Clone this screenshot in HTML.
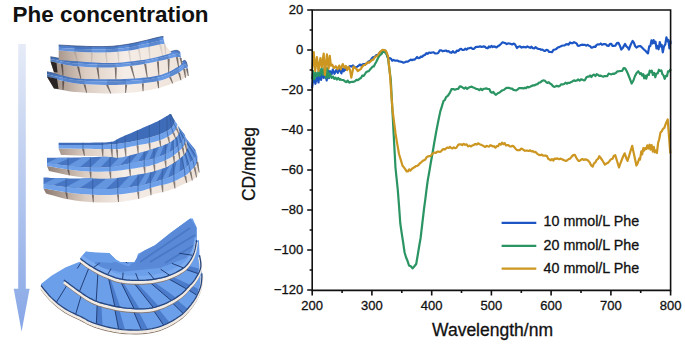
<!DOCTYPE html>
<html><head><meta charset="utf-8"><style>
html,body{margin:0;padding:0;background:#fff;}
body{width:685px;height:345px;overflow:hidden;position:relative;}
svg{position:absolute;left:0;top:0;}
</style></head><body>
<svg width="685" height="345" viewBox="0 0 685 345">
<defs>
<linearGradient id="arrowg" x1="0" y1="0" x2="0" y2="1"><stop offset="0" stop-color="#e6ebf7"/><stop offset="1" stop-color="#86a6e6"/></linearGradient>
<linearGradient id="be1" gradientUnits="userSpaceOnUse" x1="45" y1="0" x2="190" y2="0"><stop offset="0" stop-color="#8e7c72"/><stop offset="0.28" stop-color="#dccdc2"/><stop offset="0.55" stop-color="#f5ede7"/><stop offset="1" stop-color="#eee2d8"/></linearGradient>
<linearGradient id="bl1" gradientUnits="userSpaceOnUse" x1="45" y1="0" x2="190" y2="0"><stop offset="0" stop-color="#38609e"/><stop offset="0.12" stop-color="#4f7fcb"/><stop offset="1" stop-color="#5a8ede"/></linearGradient>
<linearGradient id="bl1f" gradientUnits="userSpaceOnUse" x1="45" y1="0" x2="190" y2="0"><stop offset="0" stop-color="#40679f"/><stop offset="0.12" stop-color="#6592da"/><stop offset="1" stop-color="#6b9ce6"/></linearGradient>
<clipPath id="clip3_0"><polygon points="41.0,284.0 51.5,275.8 65.3,267.5 79.0,262.0 120.0,268.0 170.0,268.0 200.5,262.0 202.0,273.4 201.9,274.7 201.9,276.4 201.8,278.5 201.6,280.7 201.4,282.9 201.0,285.0 200.5,286.9 199.8,288.9 199.1,290.9 198.2,292.8 197.3,294.7 196.4,296.5 195.4,298.2 194.4,299.9 193.3,301.5 192.1,303.1 190.9,304.7 189.6,306.3 188.3,307.9 186.9,309.4 185.5,311.0 184.0,312.5 182.3,314.1 180.3,315.6 178.0,317.2 175.5,318.9 172.8,320.5 169.9,322.1 167.0,323.6 164.1,324.9 161.2,326.0 158.3,327.0 155.3,327.8 152.2,328.5 149.0,329.1 145.6,329.5 142.0,329.8 138.0,330.0 134.0,330.0 130.0,329.9 126.0,329.8 122.4,329.5 119.0,329.1 115.7,328.6 112.6,328.0 109.6,327.4 106.7,326.7 103.9,326.0 101.3,325.3 98.7,324.5 96.3,323.8 94.0,323.0 91.9,322.2 90.0,321.4 88.4,320.7 87.2,320.1 86.1,319.4 84.9,318.7 83.6,318.0 81.8,317.0 79.5,315.9 76.8,314.7 73.9,313.3 70.9,311.9 68.0,310.4 65.3,308.8 62.8,307.1 60.4,305.4 58.0,303.6 55.8,301.7 53.6,299.7 51.5,297.8 49.4,295.7 47.4,293.3 45.4,290.9 43.6,288.7 42.1,286.8 41.0,285.4"/></clipPath><clipPath id="clip3_1"><polygon points="63.9,278.5 66.7,273.0 83.2,266.1 100.0,262.0 140.0,262.0 170.0,250.0 199.0,240.0 199.5,255.0 199.7,256.4 200.1,258.3 200.5,260.6 200.8,263.0 200.9,265.4 200.7,267.6 200.1,269.7 199.3,271.7 198.3,273.8 197.1,275.8 196.0,277.6 195.0,279.2 194.1,280.5 193.3,281.6 192.5,282.5 191.7,283.4 190.7,284.3 189.6,285.5 188.4,286.9 187.0,288.3 185.6,289.9 184.1,291.5 182.3,293.1 180.3,294.7 178.0,296.3 175.5,298.0 172.8,299.6 169.9,301.2 167.0,302.7 164.1,304.0 161.2,305.1 158.3,306.1 155.3,307.0 152.2,307.7 149.0,308.2 145.6,308.6 142.0,308.8 138.1,308.8 134.1,308.6 130.1,308.3 126.2,308.0 122.4,307.5 118.7,306.9 114.9,306.2 111.3,305.4 107.8,304.6 104.5,303.7 101.6,302.9 99.1,302.2 97.0,301.4 95.2,300.7 93.5,300.0 91.8,299.1 90.0,298.2 88.2,297.2 86.4,296.1 84.7,295.0 82.9,293.8 81.1,292.4 79.0,291.0 76.5,289.3 73.7,287.2 70.8,285.1 68.0,283.0 65.6,281.2 63.9,280.0"/></clipPath><clipPath id="clip3_2"><polygon points="80.4,257.9 85.9,251.6 95.0,252.4 109.3,253.0 115.9,259.6 121.0,262.2 128.9,263.5 134.1,262.8 136.7,258.3 138.0,253.7 155.0,245.2 171.0,232.4 190.2,218.4 192.7,218.4 196.6,227.3 196.6,240.0 196.6,240.0 196.4,241.4 196.1,243.4 195.7,245.7 195.3,248.1 194.7,250.6 194.0,252.8 193.2,254.9 192.2,256.9 191.1,259.0 189.9,260.9 188.6,262.8 187.3,264.4 186.0,265.8 184.6,267.1 183.1,268.2 181.5,269.3 179.8,270.3 178.0,271.3 176.0,272.4 173.9,273.4 171.6,274.4 169.2,275.3 166.7,276.2 164.1,277.0 161.3,277.7 158.4,278.3 155.4,278.9 152.3,279.4 149.0,279.7 145.6,280.0 142.0,280.2 138.0,280.2 134.0,280.2 130.0,280.1 126.0,279.8 122.4,279.3 119.0,278.6 115.7,277.7 112.6,276.6 109.6,275.4 106.7,274.2 103.9,273.0 101.3,271.8 98.8,270.6 96.4,269.3 94.1,268.0 92.0,266.7 90.0,265.5 88.0,264.2 86.1,262.9 84.3,261.5 82.7,260.3 81.4,259.3 80.4,258.5"/></clipPath></defs>
<rect width="685" height="345" fill="#fff"/>
<text x="12.6" y="21.9" font-family="Liberation Sans" font-weight="bold" font-size="21.8" fill="#111" textLength="196" lengthAdjust="spacingAndGlyphs">Phe concentration</text>
<path d="M18.2,44 H25.8 V288.8 H29.6 L21.6,331.5 L13.7,288.8 H18.2 Z" fill="url(#arrowg)"/><polygon points="47.0,76.7 50.0,77.5 54.0,78.6 58.8,79.9 64.1,81.2 69.6,82.4 75.0,83.3 80.5,83.9 86.4,84.3 92.5,84.6 98.6,84.8 104.5,84.9 110.0,84.9 115.1,84.9 120.1,84.8 124.8,84.6 129.3,84.4 133.8,84.1 138.1,83.7 142.4,83.3 146.5,82.8 150.5,82.3 154.4,81.7 158.1,81.0 161.5,80.2 164.7,79.2 167.8,78.1 170.6,76.8 173.3,75.5 175.7,74.3 177.8,73.2 179.6,72.1 181.2,71.0 182.5,70.0 183.7,69.1 184.6,68.4 185.5,68.0 186.2,68.0 186.8,68.5 187.1,69.1 187.4,69.8 187.6,70.5 187.8,70.9 187.9,75.6 187.7,75.7 187.6,75.9 187.3,76.1 187.0,76.3 186.6,76.6 186.0,77.0 185.4,77.4 184.8,77.8 184.1,78.2 183.2,78.8 182.0,79.4 180.2,80.2 177.9,81.2 175.1,82.3 172.0,83.6 168.6,84.9 165.0,86.1 161.5,87.2 157.9,88.2 154.2,89.1 150.4,89.9 146.4,90.6 142.3,91.3 138.1,91.9 133.8,92.4 129.3,92.8 124.8,93.1 120.1,93.3 115.1,93.5 110.0,93.5 104.4,93.4 98.3,93.3 92.1,93.0 85.9,92.7 80.1,92.3 75.0,91.9 70.4,91.4 66.2,90.7 62.3,90.1 58.9,89.4 56.1,88.8 54.0,88.4" fill="url(#be1)"/><polygon points="47.0,74.2 50.0,74.9 54.0,75.9 58.8,77.1 64.1,78.2 69.6,79.3 75.0,80.0 80.5,80.6 86.4,80.9 92.5,81.2 98.6,81.3 104.5,81.4 110.0,81.4 115.1,81.4 120.1,81.3 124.8,81.1 129.3,80.9 133.8,80.6 138.1,80.2 142.4,79.9 146.5,79.4 150.5,78.9 154.4,78.3 158.1,77.6 161.5,76.8 164.7,75.7 167.8,74.4 170.7,73.0 173.3,71.6 175.7,70.3 177.8,69.2 179.6,68.1 181.1,67.0 182.3,65.9 183.4,65.1 184.3,64.5 185.2,64.2 185.9,64.4 186.4,65.1 186.9,66.1 187.2,67.1 187.5,68.0 187.7,68.6 187.8,70.9 187.6,70.5 187.4,69.8 187.1,69.1 186.8,68.5 186.2,68.0 185.5,68.0 184.6,68.4 183.7,69.1 182.5,70.0 181.2,71.0 179.6,72.1 177.8,73.2 175.7,74.3 173.3,75.5 170.6,76.8 167.8,78.1 164.7,79.2 161.5,80.2 158.1,81.0 154.4,81.7 150.5,82.3 146.5,82.8 142.4,83.3 138.1,83.7 133.8,84.1 129.3,84.4 124.8,84.6 120.1,84.8 115.1,84.9 110.0,84.9 104.5,84.9 98.6,84.8 92.5,84.6 86.4,84.3 80.5,83.9 75.0,83.3 69.6,82.4 64.1,81.2 58.8,79.9 54.0,78.6 50.0,77.5 47.0,76.7" fill="url(#bl1f)"/><polygon points="47.0,71.8 50.0,72.4 54.0,73.2 58.8,74.2 64.1,75.2 69.6,76.1 75.0,76.8 80.5,77.2 86.4,77.5 92.5,77.7 98.6,77.8 104.5,77.9 110.0,77.9 115.1,77.9 120.1,77.8 124.8,77.6 129.3,77.4 133.8,77.1 138.1,76.8 142.4,76.4 146.5,76.0 150.5,75.5 154.4,74.9 158.1,74.2 161.5,73.3 164.7,72.2 167.8,70.8 170.7,69.3 173.3,67.7 175.7,66.3 177.8,65.1 179.6,64.0 181.0,62.9 182.1,61.9 183.1,61.1 184.0,60.5 184.8,60.4 185.5,60.8 186.1,61.8 186.6,63.1 187.0,64.4 187.3,65.5 187.6,66.3 187.7,68.6 187.5,68.0 187.2,67.1 186.9,66.1 186.4,65.1 185.9,64.4 185.2,64.2 184.3,64.5 183.4,65.1 182.3,65.9 181.1,67.0 179.6,68.1 177.8,69.2 175.7,70.3 173.3,71.6 170.7,73.0 167.8,74.4 164.7,75.7 161.5,76.8 158.1,77.6 154.4,78.3 150.5,78.9 146.5,79.4 142.4,79.9 138.1,80.2 133.8,80.6 129.3,80.9 124.8,81.1 120.1,81.3 115.1,81.4 110.0,81.4 104.5,81.4 98.6,81.3 92.5,81.2 86.4,80.9 80.5,80.6 75.0,80.0 69.6,79.3 64.1,78.2 58.8,77.1 54.0,75.9 50.0,74.9 47.0,74.2" fill="url(#bl1)"/><polygon points="63.1,75.1 65.7,75.5 68.4,75.9 71.0,76.3 73.5,76.6 76.1,76.9 78.8,77.1 81.4,77.3 84.3,77.4 84.3,84.2 81.4,84.0 78.8,83.7 76.1,83.4 73.5,83.1 71.0,82.6 68.4,82.1 65.7,81.6 63.1,81.0" fill="rgba(30,60,120,0.18)"/><polygon points="107.0,77.9 109.6,77.9 112.1,77.9 114.6,77.9 116.9,77.8 119.3,77.8 121.6,77.7 123.8,77.7 126.0,77.6 126.0,84.6 123.8,84.7 121.6,84.7 119.3,84.8 116.9,84.9 114.6,84.9 112.1,84.9 109.6,84.9 107.0,84.9" fill="rgba(30,60,120,0.18)"/><polygon points="142.7,76.4 144.7,76.2 146.7,76.0 148.6,75.7 150.5,75.5 152.4,75.2 154.2,74.9 156.0,74.6 157.7,74.2 157.7,81.1 156.0,81.4 154.2,81.7 152.4,82.0 150.5,82.3 148.6,82.6 146.7,82.8 144.7,83.0 142.7,83.2" fill="rgba(30,60,120,0.18)"/><polygon points="169.9,69.7 171.2,69.0 172.5,68.2 173.7,67.5 174.8,66.8 175.9,66.2 176.9,65.6 177.9,65.0 178.8,64.5 178.8,72.6 177.9,73.1 176.9,73.7 175.9,74.2 174.8,74.7 173.6,75.3 172.4,75.9 171.2,76.5 169.9,77.1" fill="rgba(30,60,120,0.18)"/><polygon points="183.4,60.9 183.8,60.6 184.2,60.5 184.6,60.4 185.0,60.5 185.4,60.7 185.7,61.1 186.0,61.5 186.2,62.0 186.8,68.6 186.6,68.3 186.3,68.1 186.0,68.0 185.7,68.0 185.3,68.1 184.9,68.3 184.5,68.5 184.0,68.8" fill="rgba(30,60,120,0.18)"/><polygon points="62.2,81.0 64.3,81.2 63.5,90.1 62.6,90.1" fill="#2a2020" opacity="0.6"/><polygon points="83.4,84.2 85.5,84.4 87.1,92.7 86.2,92.7" fill="#2a2020" opacity="0.6"/><polygon points="106.1,84.9 108.2,85.1 111.2,93.5 110.3,93.5" fill="#2a2020" opacity="0.6"/><polygon points="125.1,84.6 127.2,84.8 126.0,93.1 125.1,93.1" fill="#2a2020" opacity="0.6"/><polygon points="141.8,83.2 143.9,83.4 143.5,91.3 142.6,91.3" fill="#2a2020" opacity="0.6"/><polygon points="156.8,81.1 158.9,81.3 159.1,88.2 158.2,88.2" fill="#2a2020" opacity="0.6"/><polygon points="169.0,77.1 171.1,77.3 173.2,83.6 172.3,83.6" fill="#2a2020" opacity="0.6"/><polygon points="177.9,72.6 180.0,72.8 181.4,80.2 180.5,80.2" fill="#2a2020" opacity="0.6"/><polygon points="183.1,68.8 185.2,69.0 186.0,77.8 185.1,77.8" fill="#2a2020" opacity="0.6"/><polygon points="185.9,68.6 188.0,68.8 188.8,75.9 187.9,75.9" fill="#2a2020" opacity="0.6"/><polyline points="47.0,71.8 50.0,72.4 54.0,73.2 58.8,74.2 64.1,75.2 69.6,76.1 75.0,76.8 80.5,77.2 86.4,77.5 92.5,77.7 98.6,77.8 104.5,77.9 110.0,77.9 115.1,77.9 120.1,77.8 124.8,77.6 129.3,77.4 133.8,77.1 138.1,76.8 142.4,76.4 146.5,76.0 150.5,75.5 154.4,74.9 158.1,74.2 161.5,73.3 164.7,72.2 167.8,70.8 170.7,69.3 173.3,67.7 175.7,66.3 177.8,65.1 179.6,64.0 181.0,62.9 182.1,61.9 183.1,61.1 184.0,60.5 184.8,60.4 185.5,60.8 186.1,61.8 186.6,63.1 187.0,64.4 187.3,65.5 187.6,66.3" fill="none" stroke="#2a4478" stroke-width="0.9" opacity="0.8"/><polygon points="47.0,76.7 57.0,78.8 58.5,89.0 54.0,88.4" fill="#2b2424"/><polygon points="50.5,61.5 53.0,62.1 56.5,62.8 60.6,63.8 65.1,64.7 70.0,65.6 75.0,66.2 80.3,66.6 86.1,67.0 92.3,67.2 98.5,67.4 104.4,67.4 110.0,67.4 115.1,67.2 120.1,66.9 124.8,66.6 129.3,66.1 133.8,65.6 138.1,65.0 142.4,64.3 146.5,63.6 150.5,62.8 154.4,61.9 158.1,61.1 161.5,60.4 164.8,59.7 167.9,58.9 170.9,58.2 173.6,57.6 175.9,57.1 177.8,56.9 179.2,57.0 180.0,57.3 180.6,57.8 180.9,58.4 181.1,58.9 181.3,59.2 182.5,62.7 182.1,63.1 181.7,63.7 181.2,64.4 180.4,65.2 179.3,66.0 177.8,67.0 175.8,68.1 173.5,69.5 170.8,70.9 167.9,72.3 164.8,73.6 161.5,74.7 158.1,75.6 154.4,76.3 150.5,76.9 146.5,77.4 142.4,77.8 138.1,78.2 133.8,78.5 129.3,78.8 124.8,79.0 120.1,79.2 115.1,79.3 110.0,79.3 104.4,79.3 98.3,79.3 92.1,79.1 85.9,79.0 80.1,78.7 75.0,78.2 70.4,77.5 66.2,76.5 62.3,75.5 58.9,74.4 56.1,73.5 54.0,72.9" fill="url(#be1)"/><polygon points="50.5,59.1 53.0,59.6 56.5,60.3 60.6,61.2 65.1,62.0 70.0,62.8 75.0,63.4 80.3,63.8 86.1,64.1 92.3,64.4 98.5,64.5 104.4,64.6 110.0,64.5 115.1,64.3 120.1,64.1 124.8,63.7 129.3,63.2 133.8,62.7 138.1,62.1 142.4,61.5 146.6,60.7 150.6,59.9 154.5,59.1 158.1,58.3 161.5,57.5 164.6,56.7 167.6,55.9 170.3,55.2 172.7,54.5 174.9,53.9 176.7,53.6 178.0,53.7 179.0,54.0 179.6,54.5 180.1,55.0 180.4,55.5 180.8,55.8 181.3,59.2 181.1,58.9 180.9,58.4 180.6,57.8 180.0,57.3 179.2,57.0 177.8,56.9 175.9,57.1 173.6,57.6 170.9,58.2 167.9,58.9 164.8,59.7 161.5,60.4 158.1,61.1 154.4,61.9 150.5,62.8 146.5,63.6 142.4,64.3 138.1,65.0 133.8,65.6 129.3,66.1 124.8,66.6 120.1,66.9 115.1,67.2 110.0,67.4 104.4,67.4 98.5,67.4 92.3,67.2 86.1,67.0 80.3,66.6 75.0,66.2 70.0,65.6 65.1,64.7 60.6,63.8 56.5,62.8 53.0,62.1 50.5,61.5" fill="url(#bl1f)"/><polygon points="50.5,56.7 53.0,57.2 56.5,57.8 60.6,58.6 65.1,59.4 70.0,60.1 75.0,60.6 80.3,61.0 86.1,61.3 92.3,61.5 98.5,61.6 104.4,61.7 110.0,61.6 115.1,61.4 120.1,61.2 124.8,60.8 129.3,60.4 133.8,59.9 138.1,59.3 142.4,58.6 146.6,57.9 150.7,57.1 154.6,56.2 158.2,55.4 161.5,54.6 164.5,53.8 167.2,52.9 169.7,52.1 171.9,51.3 173.8,50.7 175.5,50.4 176.9,50.4 177.9,50.7 178.7,51.1 179.3,51.6 179.8,52.0 180.2,52.3 180.8,55.8 180.4,55.5 180.1,55.0 179.6,54.5 179.0,54.0 178.0,53.7 176.7,53.6 174.9,53.9 172.7,54.5 170.3,55.2 167.6,55.9 164.6,56.7 161.5,57.5 158.1,58.3 154.5,59.1 150.6,59.9 146.6,60.7 142.4,61.5 138.1,62.1 133.8,62.7 129.3,63.2 124.8,63.7 120.1,64.1 115.1,64.3 110.0,64.5 104.4,64.6 98.5,64.5 92.3,64.4 86.1,64.1 80.3,63.8 75.0,63.4 70.0,62.8 65.1,62.0 60.6,61.2 56.5,60.3 53.0,59.6 50.5,59.1" fill="url(#bl1)"/><polygon points="61.8,58.8 63.7,59.1 65.6,59.4 67.6,59.7 69.6,60.0 71.6,60.2 73.6,60.5 75.7,60.7 77.9,60.8 77.9,66.4 75.7,66.3 73.6,66.0 71.6,65.8 69.6,65.5 67.6,65.1 65.6,64.8 63.7,64.4 61.8,64.0" fill="rgba(30,60,120,0.18)"/><polygon points="97.3,61.6 99.8,61.6 102.3,61.6 104.7,61.7 107.0,61.6 109.2,61.6 111.4,61.6 113.5,61.5 115.6,61.4 115.6,67.2 113.5,67.3 111.4,67.4 109.2,67.4 107.0,67.4 104.7,67.4 102.3,67.4 99.8,67.4 97.3,67.4" fill="rgba(30,60,120,0.18)"/><polygon points="130.9,60.2 132.8,60.0 134.6,59.8 136.3,59.5 138.1,59.3 139.9,59.0 141.6,58.8 143.3,58.5 145.1,58.2 145.0,63.9 143.3,64.2 141.6,64.5 139.8,64.7 138.1,65.0 136.3,65.2 134.6,65.5 132.8,65.7 130.9,65.9" fill="rgba(30,60,120,0.18)"/><polygon points="157.9,55.5 159.2,55.1 160.6,54.8 161.9,54.5 163.1,54.2 164.3,53.8 165.5,53.5 166.6,53.1 167.7,52.8 168.5,58.8 167.2,59.1 165.9,59.4 164.6,59.7 163.3,60.0 161.9,60.3 160.6,60.6 159.2,60.9 157.7,61.2" fill="rgba(30,60,120,0.18)"/><polygon points="174.6,50.6 175.3,50.4 175.9,50.4 176.4,50.4 177.0,50.4 177.4,50.5 177.8,50.6 178.2,50.8 178.5,51.0 180.4,57.7 180.2,57.5 180.0,57.3 179.6,57.1 179.2,57.0 178.7,57.0 178.2,56.9 177.5,56.9 176.8,57.0" fill="rgba(30,60,120,0.18)"/><polygon points="60.9,64.0 63.0,64.2 63.5,75.5 62.6,75.5" fill="#2a2020" opacity="0.6"/><polygon points="77.0,66.4 79.1,66.6 81.3,78.7 80.4,78.7" fill="#2a2020" opacity="0.6"/><polygon points="96.4,67.4 98.5,67.6 99.5,79.3 98.6,79.3" fill="#2a2020" opacity="0.6"/><polygon points="114.7,67.2 116.8,67.4 116.3,79.3 115.4,79.3" fill="#2a2020" opacity="0.6"/><polygon points="130.0,65.9 132.1,66.1 135.0,78.5 134.1,78.5" fill="#2a2020" opacity="0.6"/><polygon points="144.1,63.9 146.2,64.1 147.7,77.4 146.8,77.4" fill="#2a2020" opacity="0.6"/><polygon points="156.8,61.2 158.9,61.4 159.3,75.6 158.4,75.6" fill="#2a2020" opacity="0.6"/><polygon points="167.6,58.8 169.7,59.0 169.1,72.3 168.2,72.3" fill="#2a2020" opacity="0.6"/><polygon points="175.9,57.0 178.0,57.2 179.0,67.0 178.1,67.0" fill="#2a2020" opacity="0.6"/><polygon points="179.5,57.7 181.6,57.9 182.4,64.4 181.5,64.4" fill="#2a2020" opacity="0.6"/><polyline points="50.5,56.7 53.0,57.2 56.5,57.8 60.6,58.6 65.1,59.4 70.0,60.1 75.0,60.6 80.3,61.0 86.1,61.3 92.3,61.5 98.5,61.6 104.4,61.7 110.0,61.6 115.1,61.4 120.1,61.2 124.8,60.8 129.3,60.4 133.8,59.9 138.1,59.3 142.4,58.6 146.6,57.9 150.7,57.1 154.6,56.2 158.2,55.4 161.5,54.6 164.5,53.8 167.2,52.9 169.7,52.1 171.9,51.3 173.8,50.7 175.5,50.4 176.9,50.4 177.9,50.7 178.7,51.1 179.3,51.6 179.8,52.0 180.2,52.3" fill="none" stroke="#2a4478" stroke-width="0.9" opacity="0.8"/><polygon points="50.5,61.5 56.5,62.8 57.5,72.5 54.0,72.0" fill="#2b2424"/><polygon points="58.7,50.6 61.8,50.8 66.1,51.1 71.2,51.4 76.7,51.7 82.0,52.0 86.7,52.2 90.9,52.3 95.0,52.4 98.9,52.4 102.7,52.4 106.4,52.3 110.0,52.2 113.4,52.0 116.7,51.8 119.8,51.6 122.9,51.3 125.9,51.0 128.8,50.6 131.6,50.2 134.4,49.7 137.0,49.2 139.7,48.6 142.3,48.1 145.1,47.5 148.1,46.9 151.4,46.2 154.7,45.5 157.8,44.8 160.5,44.3 162.6,44.0 163.9,43.9 164.6,44.0 164.9,44.3 164.9,44.6 164.9,44.8 165.0,45.0 171.0,52.0 171.0,52.1 171.2,52.3 171.4,52.5 171.3,52.8 170.8,53.1 169.6,53.6 167.6,54.2 165.0,55.0 161.9,55.8 158.6,56.7 155.3,57.5 152.1,58.2 149.1,58.8 146.1,59.4 143.1,59.9 140.0,60.3 136.8,60.8 133.4,61.2 129.8,61.6 125.9,62.0 122.0,62.4 118.0,62.7 113.9,62.9 110.0,63.0 106.2,63.0 102.4,62.9 98.6,62.7 94.8,62.5 90.9,62.3 86.7,62.0 82.0,61.7 76.7,61.3 71.2,60.9 66.1,60.6 61.8,60.2 58.7,60.0" fill="url(#be1)"/><polygon points="58.7,47.8 61.8,48.0 66.1,48.2 71.2,48.5 76.7,48.9 82.0,49.1 86.7,49.3 90.9,49.4 95.0,49.5 98.9,49.5 102.7,49.5 106.4,49.4 110.0,49.3 113.4,49.1 116.7,48.8 119.8,48.5 122.9,48.2 125.9,47.8 128.8,47.4 131.7,46.9 134.4,46.4 137.1,45.8 139.7,45.2 142.4,44.6 145.1,44.0 148.1,43.4 151.3,42.7 154.5,41.9 157.5,41.2 160.1,40.7 162.1,40.3 163.3,40.2 163.9,40.3 164.1,40.6 164.1,40.9 164.0,41.1 164.0,41.3 165.0,45.0 164.9,44.8 164.9,44.6 164.9,44.3 164.6,44.0 163.9,43.9 162.6,44.0 160.5,44.3 157.8,44.8 154.7,45.5 151.4,46.2 148.1,46.9 145.1,47.5 142.3,48.1 139.7,48.6 137.0,49.2 134.4,49.7 131.6,50.2 128.8,50.6 125.9,51.0 122.9,51.3 119.8,51.6 116.7,51.8 113.4,52.0 110.0,52.2 106.4,52.3 102.7,52.4 98.9,52.4 95.0,52.4 90.9,52.3 86.7,52.2 82.0,52.0 76.7,51.7 71.2,51.4 66.1,51.1 61.8,50.8 58.7,50.6" fill="url(#bl1f)"/><polygon points="58.7,45.0 61.8,45.2 66.1,45.4 71.2,45.7 76.7,46.0 82.0,46.2 86.7,46.4 90.9,46.5 95.0,46.6 98.9,46.6 102.7,46.6 106.4,46.5 110.0,46.4 113.4,46.2 116.7,45.8 119.8,45.5 122.9,45.0 125.9,44.6 128.8,44.1 131.7,43.6 134.4,43.0 137.1,42.5 139.8,41.8 142.4,41.2 145.1,40.6 148.0,39.9 151.1,39.1 154.2,38.3 157.1,37.6 159.6,37.0 161.5,36.6 162.6,36.5 163.2,36.6 163.3,36.9 163.2,37.2 163.0,37.4 163.0,37.6 164.0,41.3 164.0,41.1 164.1,40.9 164.1,40.6 163.9,40.3 163.3,40.2 162.1,40.3 160.1,40.7 157.5,41.2 154.5,41.9 151.3,42.7 148.1,43.4 145.1,44.0 142.4,44.6 139.7,45.2 137.1,45.8 134.4,46.4 131.7,46.9 128.8,47.4 125.9,47.8 122.9,48.2 119.8,48.5 116.7,48.8 113.4,49.1 110.0,49.3 106.4,49.4 102.7,49.5 98.9,49.5 95.0,49.5 90.9,49.4 86.7,49.3 82.0,49.1 76.7,48.9 71.2,48.5 66.1,48.2 61.8,48.0 58.7,47.8" fill="url(#bl1)"/><polygon points="74.5,45.9 76.9,46.0 79.3,46.1 81.7,46.2 83.9,46.3 86.0,46.4 88.0,46.4 89.9,46.5 91.7,46.5 91.7,52.3 89.9,52.3 88.0,52.2 86.0,52.2 83.9,52.1 81.7,52.0 79.3,51.9 76.9,51.7 74.5,51.6" fill="rgba(30,60,120,0.18)"/><polygon points="105.7,46.6 107.3,46.5 108.9,46.4 110.5,46.4 112.1,46.3 113.6,46.1 115.1,46.0 116.5,45.9 118.0,45.7 118.0,51.7 116.5,51.9 115.1,51.9 113.6,52.0 112.1,52.1 110.5,52.2 108.9,52.2 107.3,52.3 105.7,52.3" fill="rgba(30,60,120,0.18)"/><polygon points="128.8,44.1 130.1,43.9 131.4,43.6 132.6,43.4 133.9,43.2 135.1,42.9 136.3,42.6 137.5,42.4 138.7,42.1 138.6,48.8 137.4,49.1 136.2,49.3 135.0,49.6 133.8,49.8 132.6,50.0 131.4,50.2 130.1,50.4 128.8,50.6" fill="rgba(30,60,120,0.18)"/><polygon points="148.6,39.7 150.0,39.4 151.4,39.0 152.8,38.7 154.2,38.3 155.5,38.0 156.8,37.7 158.0,37.4 159.1,37.1 160.0,44.4 158.8,44.7 157.5,44.9 156.1,45.2 154.7,45.5 153.2,45.8 151.7,46.1 150.3,46.4 148.8,46.7" fill="rgba(30,60,120,0.18)"/><polygon points="163.2,36.7 163.3,36.8 163.2,36.9 163.2,37.1 163.1,37.2 163.1,37.3 163.0,37.5 163.0,37.5 163.0,37.6 165.0,45.0 165.0,44.9 164.9,44.9 164.9,44.7 164.9,44.6 164.9,44.5 164.9,44.4 164.9,44.2 164.7,44.1" fill="rgba(30,60,120,0.18)"/><polygon points="73.6,51.6 75.7,51.8 77.9,61.3 77.0,61.3" fill="#2a2020" opacity="0.12"/><polygon points="90.8,52.3 92.9,52.5 92.1,62.3 91.2,62.3" fill="#2a2020" opacity="0.12"/><polygon points="104.8,52.3 106.9,52.5 107.4,63.0 106.5,63.0" fill="#2a2020" opacity="0.12"/><polygon points="117.1,51.7 119.2,51.9 119.2,62.7 118.3,62.7" fill="#2a2020" opacity="0.12"/><polygon points="127.9,50.6 130.0,50.8 131.0,61.6 130.1,61.6" fill="#2a2020" opacity="0.12"/><polygon points="137.7,48.8 139.8,49.0 141.2,60.3 140.3,60.3" fill="#2a2020" opacity="0.12"/><polygon points="147.9,46.7 150.0,46.9 150.3,58.8 149.4,58.8" fill="#2a2020" opacity="0.12"/><polygon points="159.1,44.4 161.2,44.6 163.1,55.8 162.2,55.8" fill="#2a2020" opacity="0.12"/><polygon points="163.8,44.1 165.9,44.3 166.2,55.0 165.3,55.0" fill="#2a2020" opacity="0.12"/><polyline points="58.7,45.0 61.8,45.2 66.1,45.4 71.2,45.7 76.7,46.0 82.0,46.2 86.7,46.4 90.9,46.5 95.0,46.6 98.9,46.6 102.7,46.6 106.4,46.5 110.0,46.4 113.4,46.2 116.7,45.8 119.8,45.5 122.9,45.0 125.9,44.6 128.8,44.1 131.7,43.6 134.4,43.0 137.1,42.5 139.8,41.8 142.4,41.2 145.1,40.6 148.0,39.9 151.1,39.1 154.2,38.3 157.1,37.6 159.6,37.0 161.5,36.6 162.6,36.5 163.2,36.6 163.3,36.9 163.2,37.2 163.0,37.4 163.0,37.6" fill="none" stroke="#2a4478" stroke-width="0.9" opacity="0.8"/><polygon points="43.5,188.4 46.9,189.0 51.5,189.8 57.1,190.8 63.1,191.8 69.2,192.7 75.0,193.4 80.7,193.9 86.7,194.3 92.7,194.7 98.7,194.9 104.5,195.0 110.0,194.9 115.2,194.7 120.3,194.2 125.2,193.7 129.8,193.1 134.1,192.4 138.0,191.7 141.4,191.0 144.2,190.2 146.8,189.3 149.1,188.5 151.5,187.7 154.0,186.9 156.7,186.2 159.4,185.6 162.1,185.1 164.7,184.4 167.4,183.7 170.0,182.9 172.7,181.9 175.4,180.7 178.1,179.4 180.7,178.1 183.0,176.9 185.0,175.7 186.6,174.7 187.9,173.7 188.9,172.7 189.8,171.8 190.6,170.9 191.5,169.9 192.5,168.9 193.4,168.0 194.3,167.0 195.2,166.0 195.9,165.0 196.5,163.9 196.9,162.7 197.2,161.2 197.3,159.8 197.4,158.4 197.4,157.2 197.5,156.4 199.0,165.6 198.9,166.6 198.9,168.1 198.8,169.8 198.7,171.6 198.4,173.2 198.0,174.6 197.4,175.7 196.7,176.6 195.9,177.4 195.0,178.2 194.0,178.9 193.0,179.6 192.1,180.2 191.1,180.7 190.2,181.2 189.1,181.7 187.7,182.3 186.0,183.1 183.9,184.1 181.3,185.3 178.6,186.6 175.7,187.9 172.8,189.1 170.0,190.1 167.3,190.9 164.7,191.6 162.0,192.2 159.3,192.8 156.7,193.4 154.0,194.1 151.5,194.9 149.1,195.7 146.8,196.6 144.2,197.5 141.4,198.3 138.0,199.1 134.1,199.8 129.8,200.6 125.2,201.3 120.3,201.9 115.2,202.4 110.0,202.6 104.5,202.6 98.6,202.5 92.6,202.3 86.5,201.8 80.6,201.3 75.0,200.6 69.5,199.6 63.8,198.4 58.3,197.0 53.3,195.6 49.1,194.4 46.0,193.6" fill="url(#be1)"/><polygon points="43.5,184.0 46.9,184.5 51.5,185.1 57.1,185.9 63.1,186.7 69.2,187.5 75.0,188.0 80.7,188.4 86.7,188.7 92.7,188.9 98.7,189.1 104.5,189.1 110.0,189.0 115.2,188.7 120.3,188.3 125.2,187.8 129.8,187.2 134.1,186.6 138.0,186.0 141.4,185.4 144.2,184.8 146.8,184.1 149.1,183.4 151.5,182.7 154.0,182.0 156.7,181.3 159.4,180.5 162.1,179.8 164.8,178.9 167.4,178.0 170.0,177.0 172.6,175.8 175.2,174.5 177.8,173.1 180.2,171.6 182.4,170.3 184.3,169.0 185.8,167.9 186.9,166.9 187.7,165.9 188.5,164.9 189.2,164.0 190.0,163.0 190.9,162.0 191.9,161.0 192.8,160.1 193.7,159.1 194.4,158.1 195.0,157.0 195.3,155.8 195.5,154.5 195.6,153.1 195.5,151.9 195.5,150.8 195.5,150.0 197.5,156.4 197.4,157.2 197.4,158.4 197.3,159.8 197.2,161.2 196.9,162.7 196.5,163.9 195.9,165.0 195.2,166.0 194.3,167.0 193.4,168.0 192.5,168.9 191.5,169.9 190.6,170.9 189.8,171.8 188.9,172.7 187.9,173.7 186.6,174.7 185.0,175.7 183.0,176.9 180.7,178.1 178.1,179.4 175.4,180.7 172.7,181.9 170.0,182.9 167.4,183.7 164.7,184.4 162.1,185.1 159.4,185.6 156.7,186.2 154.0,186.9 151.5,187.7 149.1,188.5 146.8,189.3 144.2,190.2 141.4,191.0 138.0,191.7 134.1,192.4 129.8,193.1 125.2,193.7 120.3,194.2 115.2,194.7 110.0,194.9 104.5,195.0 98.7,194.9 92.7,194.7 86.7,194.3 80.7,193.9 75.0,193.4 69.2,192.7 63.1,191.8 57.1,190.8 51.5,189.8 46.9,189.0 43.5,188.4" fill="#6fa1ea"/><polygon points="43.5,177.5 46.9,177.6 51.5,177.9 57.1,178.1 63.1,178.3 69.2,178.5 75.0,178.5 80.7,178.4 86.7,178.2 92.7,178.0 98.7,177.7 104.5,177.4 110.0,177.0 115.2,176.6 120.3,176.1 125.2,175.6 129.8,175.1 134.1,174.5 138.0,174.0 141.4,173.5 144.2,173.0 146.8,172.5 149.1,172.0 151.5,171.4 154.0,170.7 156.7,170.0 159.6,169.2 162.4,168.5 165.1,167.5 167.7,166.4 170.0,165.0 172.1,163.2 174.0,161.0 175.8,158.6 177.4,156.2 178.8,154.0 180.0,152.0 180.9,150.3 181.6,148.8 182.1,147.4 182.4,146.2 182.7,145.0 183.0,144.0 183.3,143.1 183.5,142.3 183.6,141.7 183.7,141.1 183.9,140.6 184.0,140.0 184.2,139.4 184.4,138.8 184.6,138.2 184.7,137.7 184.9,137.3 185.0,137.0 195.5,150.0 195.5,150.8 195.5,151.9 195.6,153.1 195.5,154.5 195.3,155.8 195.0,157.0 194.4,158.1 193.7,159.1 192.8,160.1 191.9,161.0 190.9,162.0 190.0,163.0 189.2,164.0 188.5,164.9 187.7,165.9 186.9,166.9 185.8,167.9 184.3,169.0 182.4,170.3 180.2,171.6 177.8,173.1 175.2,174.5 172.6,175.8 170.0,177.0 167.4,178.0 164.8,178.9 162.1,179.8 159.4,180.5 156.7,181.3 154.0,182.0 151.5,182.7 149.1,183.4 146.8,184.1 144.2,184.8 141.4,185.4 138.0,186.0 134.1,186.6 129.8,187.2 125.2,187.8 120.3,188.3 115.2,188.7 110.0,189.0 104.5,189.1 98.7,189.1 92.7,188.9 86.7,188.7 80.7,188.4 75.0,188.0 69.2,187.5 63.1,186.7 57.1,185.9 51.5,185.1 46.9,184.5 43.5,184.0" fill="#4776c4"/><polygon points="43.5,184.0 52.9,185.3 68.9,178.5 55.4,178.0" fill="#6496e0"/><polygon points="66.1,187.1 79.3,188.3 95.4,177.9 81.9,178.4" fill="#6496e0"/><polygon points="92.7,188.9 105.9,189.1 120.0,176.1 108.4,177.1" fill="#6496e0"/><polygon points="117.8,188.5 128.7,187.4 139.5,173.8 130.7,175.0" fill="#6496e0"/><polygon points="138.0,186.0 144.9,184.6 151.4,171.4 146.0,172.7" fill="#6496e0"/><polygon points="150.3,183.1 156.0,181.4 163.6,168.0 157.3,169.8" fill="#6496e0"/><polygon points="162.1,179.8 168.1,177.8 173.9,161.1 169.3,165.4" fill="#6496e0"/><polygon points="173.9,175.1 179.6,172.0 180.4,151.2 177.7,155.8" fill="#6496e0"/><polygon points="184.3,169.0 187.1,166.6 182.7,145.1 181.9,147.9" fill="#6496e0"/><polygon points="188.8,164.5 190.7,162.3 183.7,141.4 183.3,142.9" fill="#6496e0"/><polygon points="192.8,160.1 194.6,157.8 184.4,138.8 184.0,140.2" fill="#6496e0"/><polygon points="195.4,155.1 195.5,152.2 185.0,137.0 184.8,137.7" fill="#6496e0"/><polygon points="65.2,192.3 67.3,192.5 67.8,199.0 66.9,199.0" fill="#2a2020" opacity="0.55"/><polygon points="91.8,194.7 93.9,194.9 93.8,202.3 92.9,202.3" fill="#2a2020" opacity="0.55"/><polygon points="116.9,194.4 119.0,194.6 119.0,202.1 118.1,202.1" fill="#2a2020" opacity="0.55"/><polygon points="137.1,191.7 139.2,191.9 139.2,199.1 138.3,199.1" fill="#2a2020" opacity="0.55"/><polygon points="149.4,188.1 151.5,188.3 151.5,195.3 150.6,195.3" fill="#2a2020" opacity="0.55"/><polygon points="161.2,185.1 163.3,185.2 163.2,192.2 162.3,192.2" fill="#2a2020" opacity="0.55"/><polygon points="173.1,181.3 175.2,181.5 175.4,188.5 174.5,188.5" fill="#2a2020" opacity="0.55"/><polygon points="184.1,175.7 186.2,175.9 187.2,183.1 186.3,183.1" fill="#2a2020" opacity="0.55"/><polygon points="189.3,171.3 191.4,171.5 192.8,180.5 191.9,180.5" fill="#2a2020" opacity="0.55"/><polygon points="193.4,167.0 195.5,167.2 197.1,177.4 196.2,177.4" fill="#2a2020" opacity="0.55"/><polygon points="196.1,161.9 198.2,162.1 199.7,172.4 198.8,172.4" fill="#2a2020" opacity="0.55"/><path d="M66.1,178.4 L66.1,187.1 L66.1,192.3 M92.7,178.0 L92.7,188.9 L92.7,194.7 M117.8,176.4 L117.8,188.5 L117.8,194.4 M138.0,174.0 L138.0,186.0 L138.0,191.7 M150.3,171.7 L150.3,183.1 L150.3,188.1 M162.4,168.5 L162.1,179.8 L162.1,185.1 M173.1,162.1 L173.9,175.1 L174.0,181.3 M180.0,152.0 L184.3,169.0 L185.0,175.7 M182.6,145.6 L188.8,164.5 L190.2,171.3 M183.6,141.7 L192.8,160.1 L194.3,167.0 M184.3,139.1 L195.4,155.1 L197.0,161.9" stroke="#2f5696" stroke-width="0.8" fill="none" opacity="0.8"/><polygon points="47.0,165.9 50.6,166.5 55.7,167.4 61.6,168.4 68.0,169.4 74.3,170.3 80.0,170.9 85.2,171.3 90.3,171.6 95.3,171.7 100.3,171.7 105.2,171.6 110.0,171.4 114.9,171.0 119.9,170.5 124.9,169.8 129.6,169.1 134.1,168.4 138.0,167.8 141.4,167.3 144.2,166.8 146.8,166.4 149.1,165.9 151.5,165.3 154.0,164.6 156.8,163.7 159.6,162.6 162.5,161.5 165.2,160.2 167.8,159.0 170.0,157.9 171.9,156.8 173.5,155.7 174.9,154.6 176.2,153.5 177.3,152.5 178.5,151.4 179.6,150.4 180.7,149.4 181.7,148.4 182.5,147.4 183.3,146.4 184.0,145.4 184.6,144.3 185.0,143.2 185.3,142.0 185.6,141.0 185.8,140.1 186.0,139.4 187.5,147.6 187.3,148.3 187.0,149.2 186.6,150.3 186.2,151.4 185.6,152.6 185.0,153.6 184.2,154.5 183.4,155.5 182.4,156.3 181.4,157.2 180.2,158.2 179.0,159.1 177.8,160.1 176.5,161.1 175.1,162.1 173.6,163.1 171.9,164.1 170.0,165.1 167.7,166.2 165.2,167.3 162.4,168.4 159.6,169.4 156.7,170.4 154.0,171.3 151.5,172.0 149.1,172.6 146.8,173.1 144.2,173.6 141.4,174.0 138.0,174.6 134.1,175.3 129.6,176.1 124.9,176.9 119.9,177.6 114.9,178.2 110.0,178.6 105.1,178.7 100.2,178.7 95.2,178.5 90.1,178.1 85.1,177.7 80.0,177.1 74.5,176.3 68.6,175.2 62.6,174.0 57.1,172.8 52.4,171.8 49.0,171.1" fill="url(#be1)"/><polygon points="47.0,163.0 50.6,163.5 55.7,164.2 61.6,165.0 68.0,165.8 74.3,166.5 80.0,167.0 85.2,167.3 90.3,167.5 95.3,167.6 100.3,167.6 105.2,167.4 110.0,167.0 114.9,166.4 119.9,165.5 124.9,164.4 129.6,163.4 134.1,162.3 138.0,161.5 141.4,160.9 144.2,160.4 146.8,160.1 149.1,159.7 151.5,159.2 154.0,158.5 156.8,157.6 159.6,156.6 162.5,155.4 165.3,154.3 167.8,153.1 170.0,152.0 171.8,151.0 173.4,150.0 174.7,149.0 175.9,148.0 176.9,147.0 178.0,146.0 179.0,145.0 180.0,144.0 180.9,142.9 181.7,141.9 182.4,140.9 183.0,140.0 183.5,139.1 184.0,138.1 184.3,137.1 184.6,136.3 184.8,135.5 185.0,135.0 186.0,139.4 185.8,140.1 185.6,141.0 185.3,142.0 185.0,143.2 184.6,144.3 184.0,145.4 183.3,146.4 182.5,147.4 181.7,148.4 180.7,149.4 179.6,150.4 178.5,151.4 177.3,152.5 176.2,153.5 174.9,154.6 173.5,155.7 171.9,156.8 170.0,157.9 167.8,159.0 165.2,160.2 162.5,161.5 159.6,162.6 156.8,163.7 154.0,164.6 151.5,165.3 149.1,165.9 146.8,166.4 144.2,166.8 141.4,167.3 138.0,167.8 134.1,168.4 129.6,169.1 124.9,169.8 119.9,170.5 114.9,171.0 110.0,171.4 105.2,171.6 100.3,171.7 95.3,171.7 90.3,171.6 85.2,171.3 80.0,170.9 74.3,170.3 68.0,169.4 61.6,168.4 55.7,167.4 50.6,166.5 47.0,165.9" fill="#6fa1ea"/><polygon points="47.0,157.8 50.6,157.8 55.7,157.8 61.6,157.7 68.0,157.7 74.3,157.6 80.0,157.5 85.2,157.3 90.3,157.2 95.3,157.0 100.3,156.7 105.2,156.4 110.0,156.0 114.9,155.5 119.9,154.9 124.9,154.3 129.6,153.6 134.1,152.8 138.0,152.0 141.4,151.2 144.2,150.3 146.8,149.4 149.1,148.4 151.5,147.3 154.0,146.0 156.8,144.5 159.7,142.9 162.7,141.1 165.5,139.3 168.0,137.6 170.0,136.0 171.5,134.5 172.6,132.9 173.4,131.4 174.0,130.1 174.5,128.9 175.0,128.0 175.5,127.4 175.9,127.1 176.2,127.1 176.5,127.1 176.8,127.1 177.0,127.0 177.2,126.8 177.4,126.6 177.6,126.4 177.8,126.3 177.9,126.1 178.0,126.0 185.0,135.0 184.8,135.5 184.6,136.3 184.3,137.1 184.0,138.1 183.5,139.1 183.0,140.0 182.4,140.9 181.7,141.9 180.9,142.9 180.0,144.0 179.0,145.0 178.0,146.0 176.9,147.0 175.9,148.0 174.7,149.0 173.4,150.0 171.8,151.0 170.0,152.0 167.8,153.1 165.3,154.3 162.5,155.4 159.6,156.6 156.8,157.6 154.0,158.5 151.5,159.2 149.1,159.7 146.8,160.1 144.2,160.4 141.4,160.9 138.0,161.5 134.1,162.3 129.6,163.4 124.9,164.4 119.9,165.5 114.9,166.4 110.0,167.0 105.2,167.4 100.3,167.6 95.3,167.6 90.3,167.5 85.2,167.3 80.0,167.0 74.3,166.5 68.0,165.8 61.6,165.0 55.7,164.2 50.6,163.5 47.0,163.0" fill="#4776c4"/><polygon points="47.0,163.0 55.7,164.2 70.5,157.7 58.1,157.8" fill="#6496e0"/><polygon points="68.0,165.8 80.0,167.0 92.3,157.1 82.1,157.4" fill="#6496e0"/><polygon points="90.3,167.5 100.3,167.6 112.0,155.8 102.2,156.6" fill="#6496e0"/><polygon points="110.0,167.0 119.9,165.5 131.4,153.3 121.9,154.7" fill="#6496e0"/><polygon points="129.6,163.4 138.0,161.5 145.2,149.9 139.3,151.7" fill="#6496e0"/><polygon points="144.2,160.4 149.1,159.7 155.1,145.4 150.1,147.9" fill="#6496e0"/><polygon points="154.0,158.5 159.6,156.6 166.5,138.6 160.9,142.2" fill="#6496e0"/><polygon points="165.3,154.3 170.0,152.0 172.9,132.3 170.6,135.4" fill="#6496e0"/><polygon points="173.4,150.0 175.9,148.0 175.2,127.8 174.2,129.6" fill="#6496e0"/><polygon points="178.0,146.0 180.0,144.0 176.6,127.1 176.1,127.1" fill="#6496e0"/><polygon points="181.7,141.9 183.0,140.0 177.5,126.6 177.1,126.9" fill="#6496e0"/><polygon points="184.0,138.1 184.6,136.3 178.0,126.0 177.8,126.2" fill="#6496e0"/><polygon points="67.1,169.4 69.2,169.6 69.8,175.2 68.9,175.2" fill="#2a2020" opacity="0.55"/><polygon points="89.4,171.6 91.5,171.8 91.3,178.1 90.4,178.1" fill="#2a2020" opacity="0.55"/><polygon points="109.1,171.4 111.2,171.6 111.2,178.6 110.3,178.6" fill="#2a2020" opacity="0.55"/><polygon points="128.7,169.1 130.8,169.3 130.8,176.1 129.9,176.1" fill="#2a2020" opacity="0.55"/><polygon points="143.3,166.8 145.4,167.0 145.4,173.6 144.5,173.6" fill="#2a2020" opacity="0.55"/><polygon points="153.1,164.6 155.2,164.8 155.2,171.3 154.3,171.3" fill="#2a2020" opacity="0.55"/><polygon points="164.3,160.2 166.4,160.4 166.4,167.3 165.5,167.3" fill="#2a2020" opacity="0.55"/><polygon points="172.6,155.7 174.7,155.9 174.8,163.1 173.9,163.1" fill="#2a2020" opacity="0.55"/><polygon points="177.6,151.4 179.7,151.6 180.2,159.1 179.3,159.1" fill="#2a2020" opacity="0.55"/><polygon points="181.6,147.4 183.7,147.6 184.6,155.5 183.7,155.5" fill="#2a2020" opacity="0.55"/><polygon points="184.1,143.2 186.2,143.4 187.4,151.4 186.5,151.4" fill="#2a2020" opacity="0.55"/><path d="M68.0,157.7 L68.0,165.8 L68.0,169.4 M90.3,157.2 L90.3,167.5 L90.3,171.6 M110.0,156.0 L110.0,167.0 L110.0,171.4 M129.6,153.6 L129.6,163.4 L129.6,169.1 M144.2,150.3 L144.2,160.4 L144.2,166.8 M154.0,146.0 L154.0,158.5 L154.0,164.6 M165.5,139.3 L165.3,154.3 L165.2,160.2 M172.6,132.9 L173.4,150.0 L173.5,155.7 M175.0,128.0 L178.0,146.0 L178.5,151.4 M176.5,127.1 L181.7,141.9 L182.5,147.4 M177.4,126.6 L184.0,138.1 L185.0,143.2" stroke="#2f5696" stroke-width="0.8" fill="none" opacity="0.8"/><polygon points="58.6,148.4 62.8,148.5 68.8,148.5 75.8,148.7 83.0,148.8 89.7,148.8 95.0,148.9 99.0,148.9 102.3,148.9 105.0,148.9 107.3,148.9 109.4,148.9 111.5,148.9 113.3,148.9 114.6,149.0 115.7,149.1 116.8,149.2 118.2,149.1 120.0,148.9 122.4,148.5 125.1,148.0 128.1,147.3 131.3,146.6 134.4,145.9 137.4,145.3 140.3,144.7 143.4,144.2 146.4,143.7 149.3,143.1 152.1,142.5 154.8,141.8 157.3,141.0 159.7,140.2 162.1,139.4 164.2,138.5 166.2,137.5 168.0,136.6 169.6,135.6 171.0,134.6 172.2,133.5 173.2,132.5 174.2,131.4 175.0,130.4 175.7,129.3 176.3,128.2 176.7,127.0 177.0,125.9 177.3,125.1 177.5,124.4 179.5,131.6 179.3,132.1 179.1,132.8 178.8,133.7 178.4,134.6 177.8,135.6 177.0,136.6 176.0,137.6 174.9,138.7 173.6,139.8 172.1,140.9 170.5,142.0 168.7,143.0 166.7,143.9 164.6,144.8 162.3,145.7 159.9,146.5 157.4,147.3 154.8,148.2 152.1,149.1 149.3,150.0 146.3,150.9 143.3,151.7 140.3,152.6 137.4,153.4 134.4,154.2 131.3,155.0 128.1,155.9 125.1,156.6 122.4,157.2 120.0,157.6 118.2,157.8 116.8,157.8 115.7,157.7 114.6,157.5 113.3,157.3 111.5,157.1 109.4,157.0 107.2,156.8 104.8,156.6 102.1,156.5 98.9,156.3 95.0,156.1 90.0,155.9 83.7,155.7 77.0,155.4 70.5,155.2 64.9,155.0 61.0,154.9" fill="url(#be1)"/><polygon points="58.6,145.0 62.8,145.0 68.8,145.0 75.8,145.0 83.0,145.0 89.7,145.0 95.0,145.0 99.0,145.0 102.3,144.9 105.0,144.8 107.3,144.7 109.4,144.6 111.5,144.5 113.3,144.4 114.6,144.3 115.7,144.2 116.8,144.0 118.2,143.8 120.0,143.5 122.4,143.1 125.1,142.7 128.1,142.2 131.3,141.7 134.4,141.1 137.4,140.5 140.4,139.8 143.4,139.1 146.4,138.4 149.4,137.6 152.2,136.8 154.8,136.0 157.2,135.2 159.5,134.4 161.6,133.5 163.6,132.7 165.4,131.8 167.0,131.0 168.4,130.2 169.6,129.3 170.6,128.5 171.5,127.7 172.3,126.8 173.0,126.0 173.6,125.1 174.0,124.1 174.4,123.2 174.6,122.3 174.8,121.5 175.0,121.0 177.5,124.4 177.3,125.1 177.0,125.9 176.7,127.0 176.3,128.2 175.7,129.3 175.0,130.4 174.2,131.4 173.2,132.5 172.2,133.5 171.0,134.6 169.6,135.6 168.0,136.6 166.2,137.5 164.2,138.5 162.1,139.4 159.7,140.2 157.3,141.0 154.8,141.8 152.1,142.5 149.3,143.1 146.4,143.7 143.4,144.2 140.3,144.7 137.4,145.3 134.4,145.9 131.3,146.6 128.1,147.3 125.1,148.0 122.4,148.5 120.0,148.9 118.2,149.1 116.8,149.2 115.7,149.1 114.6,149.0 113.3,148.9 111.5,148.9 109.4,148.9 107.3,148.9 105.0,148.9 102.3,148.9 99.0,148.9 95.0,148.9 89.7,148.8 83.0,148.8 75.8,148.7 68.8,148.5 62.8,148.5 58.6,148.4" fill="#6fa1ea"/><polygon points="58.6,142.8 62.8,142.8 68.8,142.8 75.8,142.8 83.0,142.7 89.7,142.7 95.0,142.6 99.0,142.5 102.3,142.5 105.0,142.4 107.3,142.3 109.4,142.1 111.5,141.8 113.3,141.4 114.6,140.8 115.7,140.2 116.8,139.5 118.2,138.7 120.0,137.8 122.4,136.7 125.1,135.5 128.1,134.2 131.3,132.9 134.4,131.5 137.4,130.2 140.4,128.9 143.4,127.6 146.4,126.3 149.4,125.1 152.2,123.8 154.8,122.6 157.2,121.4 159.6,120.2 161.8,119.0 163.8,117.8 165.5,116.8 167.0,116.0 168.1,115.3 168.9,114.8 169.4,114.4 169.7,114.1 170.0,114.0 170.4,113.9 170.8,114.0 171.1,114.4 171.4,114.8 171.7,115.3 171.8,115.7 172.0,116.0 175.0,121.0 174.8,121.5 174.6,122.3 174.4,123.2 174.0,124.1 173.6,125.1 173.0,126.0 172.3,126.8 171.5,127.7 170.6,128.5 169.6,129.3 168.4,130.2 167.0,131.0 165.4,131.8 163.6,132.7 161.6,133.5 159.5,134.4 157.2,135.2 154.8,136.0 152.2,136.8 149.4,137.6 146.4,138.4 143.4,139.1 140.4,139.8 137.4,140.5 134.4,141.1 131.3,141.7 128.1,142.2 125.1,142.7 122.4,143.1 120.0,143.5 118.2,143.8 116.8,144.0 115.7,144.2 114.6,144.3 113.3,144.4 111.5,144.5 109.4,144.6 107.3,144.7 105.0,144.8 102.3,144.9 99.0,145.0 95.0,145.0 89.7,145.0 83.0,145.0 75.8,145.0 68.8,145.0 62.8,145.0 58.6,145.0" fill="#3f6cb8"/><polygon points="82.1,148.8 84.2,149.0 84.9,155.7 84.0,155.7" fill="#2a2020" opacity="0.55"/><polygon points="101.4,148.9 103.5,149.1 103.3,156.5 102.4,156.5" fill="#2a2020" opacity="0.55"/><polygon points="110.6,148.9 112.7,149.1 112.7,157.1 111.8,157.1" fill="#2a2020" opacity="0.55"/><polygon points="115.9,149.2 118.0,149.4 118.0,157.8 117.1,157.8" fill="#2a2020" opacity="0.55"/><polygon points="124.2,148.0 126.3,148.2 126.3,156.6 125.4,156.6" fill="#2a2020" opacity="0.55"/><polygon points="136.5,145.3 138.6,145.5 138.6,153.4 137.7,153.4" fill="#2a2020" opacity="0.55"/><polygon points="148.4,143.1 150.5,143.3 150.5,150.0 149.6,150.0" fill="#2a2020" opacity="0.55"/><polygon points="158.8,140.2 160.9,140.4 161.1,146.5 160.2,146.5" fill="#2a2020" opacity="0.55"/><polygon points="167.1,136.6 169.2,136.8 169.9,143.0 169.0,143.0" fill="#2a2020" opacity="0.55"/><polygon points="172.3,132.5 174.4,132.7 176.1,138.7 175.2,138.7" fill="#2a2020" opacity="0.55"/><polygon points="175.4,128.2 177.5,128.4 179.6,134.6 178.7,134.6" fill="#2a2020" opacity="0.55"/><path d="M83.0,142.7 L83.0,145.0 L83.0,148.8 M102.3,142.5 L102.3,144.9 L102.3,148.9 M111.5,141.8 L111.5,144.5 L111.5,148.9 M116.8,139.5 L116.8,144.0 L116.8,149.2 M125.1,135.5 L125.1,142.7 L125.1,148.0 M137.4,130.2 L137.4,140.5 L137.4,145.3 M149.4,125.1 L149.4,137.6 L149.3,143.1 M159.6,120.2 L159.5,134.4 L159.7,140.2 M167.0,116.0 L167.0,131.0 L168.0,136.6 M169.7,114.1 L171.5,127.7 L173.2,132.5 M171.1,114.4 L174.0,124.1 L176.3,128.2" stroke="#2f5696" stroke-width="0.8" fill="none" opacity="0.8"/><polygon points="41.0,284.0 51.5,275.8 65.3,267.5 79.0,262.0 120.0,268.0 170.0,268.0 200.5,262.0 202.0,273.4 201.9,274.7 201.9,276.4 201.8,278.5 201.6,280.7 201.4,282.9 201.0,285.0 200.5,286.9 199.8,288.9 199.1,290.9 198.2,292.8 197.3,294.7 196.4,296.5 195.4,298.2 194.4,299.9 193.3,301.5 192.1,303.1 190.9,304.7 189.6,306.3 188.3,307.9 186.9,309.4 185.5,311.0 184.0,312.5 182.3,314.1 180.3,315.6 178.0,317.2 175.5,318.9 172.8,320.5 169.9,322.1 167.0,323.6 164.1,324.9 161.2,326.0 158.3,327.0 155.3,327.8 152.2,328.5 149.0,329.1 145.6,329.5 142.0,329.8 138.0,330.0 134.0,330.0 130.0,329.9 126.0,329.8 122.4,329.5 119.0,329.1 115.7,328.6 112.6,328.0 109.6,327.4 106.7,326.7 103.9,326.0 101.3,325.3 98.7,324.5 96.3,323.8 94.0,323.0 91.9,322.2 90.0,321.4 88.4,320.7 87.2,320.1 86.1,319.4 84.9,318.7 83.6,318.0 81.8,317.0 79.5,315.9 76.8,314.7 73.9,313.3 70.9,311.9 68.0,310.4 65.3,308.8 62.8,307.1 60.4,305.4 58.0,303.6 55.8,301.7 53.6,299.7 51.5,297.8 49.4,295.7 47.4,293.3 45.4,290.9 43.6,288.7 42.1,286.8 41.0,285.4" fill="#6c9fe9"/><g clip-path="url(#clip3_0)"><polygon points="96.4,323.8 102.6,325.3 98.7,264.1" fill="#4877c8" opacity="0.9"/><polygon points="118.6,329.1 124.9,329.3 106.5,266.0" fill="#4877c8" opacity="0.9"/><polygon points="141.4,329.8 147.6,328.5 114.5,266.2" fill="#4877c8" opacity="0.9"/><polygon points="163.6,325.1 169.0,321.8 122.3,264.6" fill="#4877c8" opacity="0.9"/><polygon points="183.1,313.4 187.0,308.3 129.1,260.5" fill="#4877c8" opacity="0.9"/><polygon points="197.0,295.4 198.4,289.2 133.9,254.2" fill="#4877c8" opacity="0.9"/><path d="M56.4,302.2 L91.3,246.0" stroke="#233f78" stroke-width="1"/><path d="M75.7,314.2 L95.1,248.4" stroke="#233f78" stroke-width="1"/><path d="M96.4,323.8 L99.3,250.4" stroke="#233f78" stroke-width="1"/><path d="M118.6,329.1 L103.7,251.4" stroke="#233f78" stroke-width="1"/><path d="M141.4,329.8 L108.3,251.6" stroke="#233f78" stroke-width="1"/><path d="M163.6,325.1 L112.7,250.6" stroke="#233f78" stroke-width="1"/><path d="M183.1,313.4 L116.6,248.3" stroke="#233f78" stroke-width="1"/><path d="M197.0,295.4 L119.4,244.7" stroke="#233f78" stroke-width="1"/></g><polyline points="41.0,289.3 42.1,290.7 43.6,292.6 45.4,294.8 47.4,297.2 49.4,299.6 51.5,301.7 53.6,303.6 55.8,305.6 58.0,307.5 60.4,309.3 62.8,311.0 65.3,312.7 68.0,314.3 70.9,315.8 73.9,317.2 76.8,318.6 79.5,319.8 81.8,320.9 83.6,321.9 84.9,322.6 86.1,323.3 87.2,324.0 88.4,324.6 90.0,325.3 91.9,326.1 94.0,326.9 96.3,327.7 98.7,328.4 101.3,329.2 103.9,329.9 106.7,330.6 109.6,331.3 112.6,331.9 115.7,332.5 119.0,333.0 122.4,333.4 126.0,333.7 130.0,333.8 134.0,333.9 138.0,333.9 142.0,333.7 145.6,333.4 149.0,333.0 152.2,332.4 155.3,331.7 158.3,330.9 161.2,329.9 164.1,328.8 167.0,327.5 169.9,326.0 172.8,324.4 175.5,322.8 178.0,321.1 180.3,319.5 182.3,318.0 184.0,316.4 185.5,314.9 186.9,313.3 188.3,311.8 189.6,310.2 190.9,308.6 192.1,307.0 193.3,305.4 194.4,303.8 195.4,302.1 196.4,300.4 197.3,298.6 198.2,296.7 199.1,294.8 199.8,292.8 200.5,290.8 201.0,288.9 201.4,286.8 201.6,284.6 201.8,282.4 201.9,280.3 201.9,278.6 202.0,277.3" fill="none" stroke="#8a786a" stroke-width="1.1"/><polyline points="41.0,287.5 42.1,288.9 43.6,290.8 45.4,293.0 47.4,295.4 49.4,297.8 51.5,299.9 53.6,301.8 55.8,303.8 58.0,305.7 60.4,307.5 62.8,309.2 65.3,310.9 68.0,312.5 70.9,314.0 73.9,315.4 76.8,316.8 79.5,318.0 81.8,319.1 83.6,320.1 84.9,320.8 86.1,321.5 87.2,322.2 88.4,322.8 90.0,323.5 91.9,324.3 94.0,325.1 96.3,325.9 98.7,326.6 101.3,327.4 103.9,328.1 106.7,328.8 109.6,329.5 112.6,330.1 115.7,330.7 119.0,331.2 122.4,331.6 126.0,331.9 130.0,332.0 134.0,332.1 138.0,332.1 142.0,331.9 145.6,331.6 149.0,331.2 152.2,330.6 155.3,329.9 158.3,329.1 161.2,328.1 164.1,327.0 167.0,325.7 169.9,324.2 172.8,322.6 175.5,321.0 178.0,319.3 180.3,317.7 182.3,316.2 184.0,314.6 185.5,313.1 186.9,311.5 188.3,310.0 189.6,308.4 190.9,306.8 192.1,305.2 193.3,303.6 194.4,302.0 195.4,300.3 196.4,298.6 197.3,296.8 198.2,294.9 199.1,293.0 199.8,291.0 200.5,289.0 201.0,287.1 201.4,285.0 201.6,282.8 201.8,280.6 201.9,278.5 201.9,276.8 202.0,275.5" fill="none" stroke="#f2ebe4" stroke-width="2.8"/><polyline points="41.0,285.5 42.1,286.9 43.6,288.8 45.4,291.0 47.4,293.4 49.4,295.8 51.5,297.9 53.6,299.8 55.8,301.8 58.0,303.7 60.4,305.5 62.8,307.2 65.3,308.9 68.0,310.5 70.9,312.0 73.9,313.4 76.8,314.8 79.5,316.0 81.8,317.1 83.6,318.1 84.9,318.8 86.1,319.5 87.2,320.2 88.4,320.8 90.0,321.5 91.9,322.3 94.0,323.1 96.3,323.9 98.7,324.6 101.3,325.4 103.9,326.1 106.7,326.8 109.6,327.5 112.6,328.1 115.7,328.7 119.0,329.2 122.4,329.6 126.0,329.9 130.0,330.0 134.0,330.1 138.0,330.1 142.0,329.9 145.6,329.6 149.0,329.2 152.2,328.6 155.3,327.9 158.3,327.1 161.2,326.1 164.1,325.0 167.0,323.7 169.9,322.2 172.8,320.6 175.5,319.0 178.0,317.3 180.3,315.7 182.3,314.2 184.0,312.6 185.5,311.1 186.9,309.5 188.3,308.0 189.6,306.4 190.9,304.8 192.1,303.2 193.3,301.6 194.4,300.0 195.4,298.3 196.4,296.6 197.3,294.8 198.2,292.9 199.1,291.0 199.8,289.0 200.5,287.0 201.0,285.1 201.4,283.0 201.6,280.8 201.8,278.6 201.9,276.5 201.9,274.8 202.0,273.5" fill="none" stroke="#27467e" stroke-width="1.3"/><polygon points="63.9,278.5 66.7,273.0 83.2,266.1 100.0,262.0 140.0,262.0 170.0,250.0 199.0,240.0 199.5,255.0 199.7,256.4 200.1,258.3 200.5,260.6 200.8,263.0 200.9,265.4 200.7,267.6 200.1,269.7 199.3,271.7 198.3,273.8 197.1,275.8 196.0,277.6 195.0,279.2 194.1,280.5 193.3,281.6 192.5,282.5 191.7,283.4 190.7,284.3 189.6,285.5 188.4,286.9 187.0,288.3 185.6,289.9 184.1,291.5 182.3,293.1 180.3,294.7 178.0,296.3 175.5,298.0 172.8,299.6 169.9,301.2 167.0,302.7 164.1,304.0 161.2,305.1 158.3,306.1 155.3,307.0 152.2,307.7 149.0,308.2 145.6,308.6 142.0,308.8 138.1,308.8 134.1,308.6 130.1,308.3 126.2,308.0 122.4,307.5 118.7,306.9 114.9,306.2 111.3,305.4 107.8,304.6 104.5,303.7 101.6,302.9 99.1,302.2 97.0,301.4 95.2,300.7 93.5,300.0 91.8,299.1 90.0,298.2 88.2,297.2 86.4,296.1 84.7,295.0 82.9,293.8 81.1,292.4 79.0,291.0 76.5,289.3 73.7,287.2 70.8,285.1 68.0,283.0 65.6,281.2 63.9,280.0" fill="#6c9fe9"/><g clip-path="url(#clip3_1)"><polygon points="114.8,306.2 120.2,306.9 105.2,263.2" fill="#4877c8" opacity="0.9"/><polygon points="134.0,308.6 139.3,308.3 111.9,264.0" fill="#4877c8" opacity="0.9"/><polygon points="153.2,307.4 158.2,305.5 118.6,263.6" fill="#4877c8" opacity="0.9"/><polygon points="171.2,300.5 175.5,297.3 124.9,261.2" fill="#4877c8" opacity="0.9"/><polygon points="186.5,288.9 189.8,284.7 130.3,257.1" fill="#4877c8" opacity="0.9"/><polygon points="198.3,273.7 198.6,268.5 134.4,251.8" fill="#4877c8" opacity="0.9"/><path d="M79.5,291.4 L95.9,250.3" stroke="#233f78" stroke-width="1"/><path d="M96.2,301.1 L99.2,252.2" stroke="#233f78" stroke-width="1"/><path d="M114.8,306.2 L103.0,253.2" stroke="#233f78" stroke-width="1"/><path d="M134.0,308.6 L106.8,253.7" stroke="#233f78" stroke-width="1"/><path d="M153.2,307.4 L110.6,253.5" stroke="#233f78" stroke-width="1"/><path d="M171.2,300.5 L114.2,252.1" stroke="#233f78" stroke-width="1"/><path d="M186.5,288.9 L117.3,249.8" stroke="#233f78" stroke-width="1"/><path d="M198.3,273.7 L119.7,246.7" stroke="#233f78" stroke-width="1"/></g><polyline points="63.9,283.9 65.6,285.1 68.0,286.9 70.8,288.9 73.7,291.1 76.5,293.2 79.0,294.9 81.1,296.3 82.9,297.7 84.7,298.9 86.4,300.0 88.2,301.1 90.0,302.1 91.8,303.0 93.5,303.9 95.2,304.6 97.0,305.3 99.1,306.1 101.6,306.8 104.5,307.6 107.8,308.5 111.3,309.3 114.9,310.1 118.7,310.8 122.4,311.4 126.2,311.9 130.1,312.2 134.1,312.5 138.1,312.7 142.0,312.7 145.6,312.5 149.0,312.1 152.2,311.6 155.3,310.9 158.3,310.0 161.2,309.0 164.1,307.9 167.0,306.6 169.9,305.1 172.8,303.5 175.5,301.9 178.0,300.2 180.3,298.6 182.3,297.0 184.1,295.4 185.6,293.8 187.0,292.2 188.4,290.8 189.6,289.4 190.7,288.2 191.7,287.3 192.5,286.4 193.3,285.5 194.1,284.4 195.0,283.1 196.0,281.5 197.1,279.7 198.3,277.7 199.3,275.6 200.1,273.6 200.7,271.5 200.9,269.3 200.8,266.9 200.5,264.5 200.1,262.2 199.7,260.3 199.5,258.9" fill="none" stroke="#8a786a" stroke-width="1.1"/><polyline points="63.9,282.1 65.6,283.3 68.0,285.1 70.8,287.2 73.7,289.3 76.5,291.4 79.0,293.1 81.1,294.5 82.9,295.9 84.7,297.1 86.4,298.2 88.2,299.3 90.0,300.3 91.8,301.2 93.5,302.1 95.2,302.8 97.0,303.5 99.1,304.3 101.6,305.0 104.5,305.8 107.8,306.7 111.3,307.5 114.9,308.3 118.7,309.0 122.4,309.6 126.2,310.1 130.1,310.4 134.1,310.7 138.1,310.9 142.0,310.9 145.6,310.7 149.0,310.3 152.2,309.8 155.3,309.1 158.3,308.2 161.2,307.2 164.1,306.1 167.0,304.8 169.9,303.3 172.8,301.7 175.5,300.1 178.0,298.4 180.3,296.8 182.3,295.2 184.1,293.6 185.6,292.0 187.0,290.4 188.4,289.0 189.6,287.6 190.7,286.4 191.7,285.5 192.5,284.6 193.3,283.7 194.1,282.6 195.0,281.3 196.0,279.7 197.1,277.9 198.3,275.9 199.3,273.8 200.1,271.8 200.7,269.7 200.9,267.5 200.8,265.1 200.5,262.7 200.1,260.4 199.7,258.5 199.5,257.1" fill="none" stroke="#f2ebe4" stroke-width="2.8"/><polyline points="63.9,280.1 65.6,281.3 68.0,283.1 70.8,285.2 73.7,287.3 76.5,289.4 79.0,291.1 81.1,292.5 82.9,293.9 84.7,295.1 86.4,296.2 88.2,297.3 90.0,298.3 91.8,299.2 93.5,300.1 95.2,300.8 97.0,301.5 99.1,302.3 101.6,303.0 104.5,303.8 107.8,304.7 111.3,305.5 114.9,306.3 118.7,307.0 122.4,307.6 126.2,308.1 130.1,308.4 134.1,308.7 138.1,308.9 142.0,308.9 145.6,308.7 149.0,308.3 152.2,307.8 155.3,307.1 158.3,306.2 161.2,305.2 164.1,304.1 167.0,302.8 169.9,301.3 172.8,299.7 175.5,298.1 178.0,296.4 180.3,294.8 182.3,293.2 184.1,291.6 185.6,290.0 187.0,288.4 188.4,287.0 189.6,285.6 190.7,284.4 191.7,283.5 192.5,282.6 193.3,281.7 194.1,280.6 195.0,279.3 196.0,277.7 197.1,275.9 198.3,273.9 199.3,271.8 200.1,269.8 200.7,267.7 200.9,265.5 200.8,263.1 200.5,260.7 200.1,258.4 199.7,256.5 199.5,255.1" fill="none" stroke="#27467e" stroke-width="1.3"/><polygon points="80.4,257.9 85.9,251.6 95.0,252.4 109.3,253.0 115.9,259.6 121.0,262.2 128.9,263.5 134.1,262.8 136.7,258.3 138.0,253.7 155.0,245.2 171.0,232.4 190.2,218.4 192.7,218.4 196.6,227.3 196.6,240.0 196.6,240.0 196.4,241.4 196.1,243.4 195.7,245.7 195.3,248.1 194.7,250.6 194.0,252.8 193.2,254.9 192.2,256.9 191.1,259.0 189.9,260.9 188.6,262.8 187.3,264.4 186.0,265.8 184.6,267.1 183.1,268.2 181.5,269.3 179.8,270.3 178.0,271.3 176.0,272.4 173.9,273.4 171.6,274.4 169.2,275.3 166.7,276.2 164.1,277.0 161.3,277.7 158.4,278.3 155.4,278.9 152.3,279.4 149.0,279.7 145.6,280.0 142.0,280.2 138.0,280.2 134.0,280.2 130.0,280.1 126.0,279.8 122.4,279.3 119.0,278.6 115.7,277.7 112.6,276.6 109.6,275.4 106.7,274.2 103.9,273.0 101.3,271.8 98.8,270.6 96.4,269.3 94.1,268.0 92.0,266.7 90.0,265.5 88.0,264.2 86.1,262.9 84.3,261.5 82.7,260.3 81.4,259.3 80.4,258.5" fill="#6c9fe9"/><g clip-path="url(#clip3_2)"><polygon points="95.0,262.0 115.9,262.0 128.9,266.5 138.0,256.0 150.0,245.0 171.0,232.0 190.0,218.0 197.0,228.0 197.0,245.0 186.0,258.0 160.0,268.0 120.0,272.0 95.0,266.0" fill="#5a8bd8"/><path d="M140,262 L190,228 M150,262 L195,235 M165,263 L196,244" stroke="#4473c2" stroke-width="2" opacity="0.7"/><polygon points="80.4,257.9 85.9,251.6 95.0,252.4 109.3,253.0 115.9,259.6 112.0,263.0 98.0,262.0 86.0,260.0" fill="#6a9de8"/><polyline points="80.4,256.0 81.4,256.8 82.7,257.8 84.3,259.0 86.1,260.4 88.0,261.7 90.0,263.0 92.0,264.2 94.1,265.5 96.4,266.8 98.8,268.1 101.3,269.3 103.9,270.5 106.7,271.7 109.6,272.9 112.6,274.1 115.7,275.2 119.0,276.1 122.4,276.8 126.0,277.3 130.0,277.6 134.0,277.7 138.0,277.7 142.0,277.7 145.6,277.5 149.0,277.2 152.3,276.9 155.4,276.4 158.4,275.8 161.3,275.2 164.1,274.5 166.7,273.7 169.2,272.8 171.6,271.9 173.9,270.9 176.0,269.9 178.0,268.8 179.8,267.8 181.5,266.8 183.1,265.7 184.6,264.6 186.0,263.3 187.3,261.9 188.6,260.3 189.9,258.4 191.1,256.5 192.2,254.4 193.2,252.4 194.0,250.3 194.7,248.1 195.3,245.6 195.7,243.2 196.1,240.9 196.4,238.9 196.6,237.5" fill="none" stroke="#7aaaf0" stroke-width="4"/><path d="M93.4,267.6 L99.7,263.0" stroke="#233f78" stroke-width="1"/><path d="M107.6,274.6 L111.1,268.7" stroke="#233f78" stroke-width="1"/><path d="M122.6,279.3 L123.1,272.5" stroke="#233f78" stroke-width="1"/><path d="M138.4,280.2 L135.7,273.2" stroke="#233f78" stroke-width="1"/><path d="M154.2,279.1 L148.4,272.3" stroke="#233f78" stroke-width="1"/><path d="M169.5,275.2 L160.6,269.2" stroke="#233f78" stroke-width="1"/><path d="M183.5,267.9 L171.8,263.3" stroke="#233f78" stroke-width="1"/><path d="M192.9,255.3 L179.3,253.3" stroke="#233f78" stroke-width="1"/></g><polyline points="80.4,262.4 81.4,263.2 82.7,264.2 84.3,265.4 86.1,266.8 88.0,268.1 90.0,269.4 92.0,270.6 94.1,271.9 96.4,273.2 98.8,274.5 101.3,275.7 103.9,276.9 106.7,278.1 109.6,279.3 112.6,280.5 115.7,281.6 119.0,282.5 122.4,283.2 126.0,283.7 130.0,284.0 134.0,284.1 138.0,284.1 142.0,284.1 145.6,283.9 149.0,283.6 152.3,283.3 155.4,282.8 158.4,282.2 161.3,281.6 164.1,280.9 166.7,280.1 169.2,279.2 171.6,278.3 173.9,277.3 176.0,276.3 178.0,275.2 179.8,274.2 181.5,273.2 183.1,272.1 184.6,271.0 186.0,269.7 187.3,268.3 188.6,266.7 189.9,264.8 191.1,262.9 192.2,260.8 193.2,258.8 194.0,256.7 194.7,254.5 195.3,252.0 195.7,249.6 196.1,247.3 196.4,245.3 196.6,243.9" fill="none" stroke="#8a786a" stroke-width="1.1"/><polyline points="80.4,260.6 81.4,261.4 82.7,262.4 84.3,263.6 86.1,265.0 88.0,266.3 90.0,267.6 92.0,268.8 94.1,270.1 96.4,271.4 98.8,272.7 101.3,273.9 103.9,275.1 106.7,276.3 109.6,277.5 112.6,278.7 115.7,279.8 119.0,280.7 122.4,281.4 126.0,281.9 130.0,282.2 134.0,282.3 138.0,282.3 142.0,282.3 145.6,282.1 149.0,281.8 152.3,281.5 155.4,281.0 158.4,280.4 161.3,279.8 164.1,279.1 166.7,278.3 169.2,277.4 171.6,276.5 173.9,275.5 176.0,274.5 178.0,273.4 179.8,272.4 181.5,271.4 183.1,270.3 184.6,269.2 186.0,267.9 187.3,266.5 188.6,264.9 189.9,263.0 191.1,261.1 192.2,259.0 193.2,257.0 194.0,254.9 194.7,252.7 195.3,250.2 195.7,247.8 196.1,245.5 196.4,243.5 196.6,242.1" fill="none" stroke="#f2ebe4" stroke-width="2.8"/><polyline points="80.4,258.6 81.4,259.4 82.7,260.4 84.3,261.6 86.1,263.0 88.0,264.3 90.0,265.6 92.0,266.8 94.1,268.1 96.4,269.4 98.8,270.7 101.3,271.9 103.9,273.1 106.7,274.3 109.6,275.5 112.6,276.7 115.7,277.8 119.0,278.7 122.4,279.4 126.0,279.9 130.0,280.2 134.0,280.3 138.0,280.3 142.0,280.3 145.6,280.1 149.0,279.8 152.3,279.5 155.4,279.0 158.4,278.4 161.3,277.8 164.1,277.1 166.7,276.3 169.2,275.4 171.6,274.5 173.9,273.5 176.0,272.5 178.0,271.4 179.8,270.4 181.5,269.4 183.1,268.3 184.6,267.2 186.0,265.9 187.3,264.5 188.6,262.9 189.9,261.0 191.1,259.1 192.2,257.0 193.2,255.0 194.0,252.9 194.7,250.7 195.3,248.2 195.7,245.8 196.1,243.5 196.4,241.5 196.6,240.1" fill="none" stroke="#27467e" stroke-width="1.3"/>
<polyline points="312.0,88.4 313.6,76.5 315.4,83.8 317.1,75.5 318.5,82.5 320.0,70.4 321.1,79.8 322.3,71.9 323.8,77.9 324.9,73.0 326.7,80.5 327.8,69.5 328.9,78.2 330.0,71.2 331.7,74.1 332.8,69.6 334.5,73.8 336.3,69.9 337.9,72.9 339.7,68.7 341.4,73.4 342.7,68.7 343.8,71.3 344.8,67.9 345.5,69.8 347.0,68.1 348.5,67.5 350.0,66.0 351.5,66.6 353.0,65.5 354.5,67.3 356.0,67.0 357.3,66.7 358.7,65.6 360.0,64.5 361.3,65.8 362.7,64.4 364.0,64.0 365.3,63.8 366.7,63.5 368.0,62.0 369.3,61.1 370.7,60.3 372.0,58.0 373.2,57.0 374.5,57.2 375.8,55.6 377.0,55.0 378.5,54.5 380.0,52.0 381.6,52.0 383.2,50.4 384.6,50.3 386.0,52.0 388.2,58.6 389.6,58.1 390.9,58.7 392.2,60.7 393.6,59.9 394.9,60.6 396.3,60.7 397.7,60.7 399.2,61.5 400.6,61.6 402.1,62.0 403.5,62.7 404.9,62.3 406.4,61.6 407.8,61.7 409.3,60.6 410.7,59.6 412.0,60.2 413.2,59.6 414.5,59.6 415.8,58.5 417.1,57.0 418.3,58.1 419.6,58.0 420.9,56.6 422.2,56.8 423.6,55.4 424.9,55.0 426.3,53.2 427.6,53.9 429.0,52.5 430.6,52.9 432.1,52.5 433.6,52.3 435.2,53.5 436.7,53.5 438.2,53.0 439.8,50.3 441.3,50.4 442.8,51.3 444.4,50.8 445.9,50.5 447.4,51.5 448.8,51.2 450.1,52.4 451.5,52.8 452.9,51.2 454.2,52.6 455.6,52.5 457.0,50.5 458.3,50.9 459.7,49.4 461.1,48.9 462.4,49.9 463.8,50.0 465.2,48.7 466.5,49.7 467.9,48.4 469.4,48.1 470.9,47.7 472.5,48.9 474.0,48.8 475.5,47.2 477.1,46.9 478.6,46.8 480.1,46.4 481.7,47.0 483.2,46.4 484.8,46.6 486.3,48.0 487.6,48.3 488.9,46.5 490.1,47.4 491.4,45.9 492.7,47.1 493.9,46.4 495.2,46.9 496.5,47.4 498.0,46.2 499.6,45.2 501.1,43.8 502.6,42.3 504.0,42.7 505.3,43.1 506.7,44.1 508.1,43.4 509.4,43.5 510.8,43.9 512.2,44.5 513.5,43.6 514.9,44.3 517.0,48.0 518.5,46.7 520.0,46.3 521.6,47.6 523.1,46.9 524.7,47.1 526.1,47.3 527.4,46.3 528.8,47.3 530.2,47.8 531.5,46.7 532.9,48.2 534.3,48.3 535.6,47.2 537.0,48.3 538.4,49.0 539.7,49.0 541.1,49.8 542.4,49.5 543.8,50.6 545.2,51.0 546.5,49.8 547.9,50.3 549.2,52.0 550.6,52.0 552.0,52.2 553.5,49.8 554.9,49.5 556.3,48.9 557.8,47.5 559.2,47.1 560.5,46.4 561.9,45.8 563.2,45.5 564.6,45.5 565.9,44.4 567.3,44.2 568.6,44.6 570.0,42.5 571.3,43.2 572.7,43.2 574.0,42.2 575.2,42.7 576.5,43.4 577.8,45.6 579.0,45.9 580.5,45.1 582.0,44.7 583.5,44.9 585.0,44.8 586.3,45.7 587.6,44.8 588.9,45.7 590.2,46.2 591.5,47.7 592.8,47.4 594.1,46.6 595.4,46.9 596.8,44.7 598.1,44.4 599.4,44.5 600.7,43.5 602.0,44.8 603.3,44.2 604.6,44.1 605.9,44.3 607.2,45.6 608.5,46.0 610.0,43.9 611.3,43.9 612.5,45.8 613.8,45.8 615.4,45.6 616.9,43.2 618.5,42.9 619.9,45.7 621.3,49.5 622.6,48.3 623.8,46.1 625.1,43.9 626.4,46.4 627.6,47.3 628.9,49.5 630.8,44.4 632.6,41.0 633.9,42.7 635.1,46.0 636.4,47.6 638.2,46.3 640.0,46.0 641.3,46.8 642.7,48.2 644.0,49.5 645.9,51.2 647.7,53.3 648.0,53.3 649.2,46.4 650.3,46.1 651.5,40.3 652.6,43.5 653.6,40.1 654.6,43.2 655.5,41.6 656.5,48.5 657.4,46.0 658.6,49.3 659.8,42.0 660.8,46.5 661.7,45.0 662.8,52.3 664.0,46.3 665.3,44.4 666.4,37.4 667.5,41.3 668.4,39.9 669.4,48.3 670.4,41.3 670.5,44.0" fill="none" stroke="#1c56c4" stroke-width="2.2" stroke-linejoin="round"/><polyline points="312.0,79.2 313.2,71.1 314.3,79.3 315.7,72.7 317.2,76.2 318.6,71.3 319.8,75.8 321.6,68.1 322.8,74.8 324.7,67.1 326.1,78.0 327.2,68.1 328.5,77.6 329.7,73.5 331.5,77.9 333.0,76.5 334.4,78.9 335.5,77.6 336.8,79.5 338.2,77.9 339.8,79.9 340.0,79.0 341.6,79.9 343.2,80.0 344.8,81.2 346.2,82.1 347.7,80.6 349.2,82.7 350.6,82.0 352.1,81.9 353.5,81.8 354.9,81.2 356.4,79.8 357.9,80.1 359.5,78.8 361.0,78.0 362.3,75.6 363.7,75.9 365.0,74.0 366.2,72.2 367.5,71.4 368.8,71.1 370.0,69.6 371.2,68.3 372.5,66.6 373.8,66.4 375.0,64.0 376.2,62.0 377.5,59.2 378.8,56.7 380.0,55.0 381.5,54.0 383.0,51.5 384.5,52.2 386.0,53.0 388.0,58.0 389.4,69.0 390.8,80.0 392.2,106.5 393.6,133.0 395.5,168.0 397.8,190.0 399.1,206.8 400.3,223.5 401.7,233.2 403.2,242.8 404.6,252.5 406.1,257.5 407.5,260.8 409.0,265.5 410.8,266.3 412.5,268.4 414.4,266.3 416.2,264.0 417.7,255.3 419.1,246.7 420.6,238.0 422.3,223.5 424.0,209.0 425.3,199.3 426.5,189.7 427.8,180.0 429.3,171.7 430.7,163.3 432.2,155.0 434.2,143.0 436.2,131.7 438.3,121.0 440.3,111.4 441.9,106.3 443.4,101.2 444.7,100.2 446.1,97.1 447.4,96.2 448.8,94.5 450.1,92.4 451.5,89.1 453.2,89.0 454.9,89.7 456.7,89.0 458.2,88.9 459.8,86.4 461.3,86.7 462.8,87.6 464.2,88.6 465.7,87.4 467.1,89.0 468.6,87.7 470.2,87.0 471.7,86.7 473.3,87.5 474.8,88.1 476.4,89.0 477.8,89.2 479.3,90.2 480.8,88.7 482.2,90.1 483.6,88.8 485.1,88.7 486.6,88.4 488.0,89.0 489.3,89.0 490.7,92.0 492.0,92.7 493.3,92.0 494.7,93.8 496.0,94.8 497.8,93.2 499.6,92.5 501.0,91.2 502.4,90.3 503.7,90.0 505.1,88.9 506.5,87.8 507.9,87.9 509.3,87.9 510.7,88.6 512.1,88.6 513.5,89.9 514.9,90.2 516.3,90.3 517.7,89.3 519.1,88.2 520.5,88.1 521.9,88.2 523.3,88.4 524.7,87.8 526.1,88.1 527.5,86.8 528.9,87.4 530.4,86.6 531.8,85.9 533.2,85.4 534.6,85.3 536.0,84.5 537.5,84.1 538.9,82.7 540.3,82.5 541.8,81.1 543.2,80.4 544.6,80.5 545.9,81.8 547.3,82.9 548.7,82.2 550.0,83.6 551.4,84.3 552.8,86.0 554.1,86.8 555.5,86.5 556.9,85.8 558.4,86.5 559.8,85.9 561.2,84.3 562.7,84.3 564.1,84.0 565.5,82.7 566.9,83.7 568.3,82.8 569.8,82.8 571.2,82.1 572.6,81.3 574.0,80.4 575.4,80.9 576.8,80.5 578.2,79.5 579.6,80.6 581.0,79.3 582.4,79.6 583.8,80.4 585.0,80.1 586.3,77.5 587.5,76.7 588.8,76.7 590.1,75.5 591.4,77.0 592.7,75.2 594.1,74.6 595.4,76.1 596.7,74.2 598.0,74.8 599.3,75.8 600.6,75.6 602.0,76.2 603.3,76.7 604.6,76.1 605.9,76.1 607.3,76.1 608.6,73.7 610.0,74.0 611.4,74.4 612.9,73.6 614.3,73.8 615.7,73.1 617.5,71.3 619.4,71.2 620.8,71.0 622.2,70.8 623.7,68.1 625.1,68.4 626.5,70.8 628.0,74.0 629.9,78.9 631.7,83.5 633.4,80.5 635.0,76.0 636.6,73.0 638.3,71.2 640.0,74.0 640.9,73.1 642.3,75.7 643.2,74.1 644.2,78.3 645.2,75.7 646.2,78.6 647.5,74.6 648.8,74.9 649.7,70.7 650.8,72.2 651.8,70.6 652.9,75.0 654.2,72.9 655.3,77.3 656.4,73.6 657.7,73.5 659.0,69.7 660.1,71.0 661.4,70.4 662.3,74.0 663.5,75.4 664.7,78.8 665.8,75.8 667.0,76.2 668.0,71.4 669.2,71.4 670.3,69.7 670.5,71.0" fill="none" stroke="#2a9462" stroke-width="2.2" stroke-linejoin="round"/><polyline points="312.0,71.4 313.7,52.1 315.2,70.8 316.9,57.2 318.5,71.0 320.4,58.0 321.8,67.0 323.7,53.5 324.9,75.0 326.9,54.4 328.6,68.7 329.8,55.9 330.9,65.7 332.3,64.7 333.9,68.1 335.8,66.2 337.5,69.2 339.3,65.6 340.7,69.3 342.7,64.1 344.5,67.7 345.9,66.0 347.1,70.1 348.6,66.8 350.0,70.0 351.3,77.6 353.5,66.7 354.9,67.7 356.4,69.0 357.8,71.0 359.3,70.0 360.7,69.1 362.2,66.7 363.6,65.2 365.1,65.0 366.6,63.3 368.0,62.4 369.2,62.6 370.5,61.4 371.8,60.1 373.0,60.0 374.2,58.1 375.5,56.5 376.8,56.2 378.0,55.0 379.5,52.7 381.0,51.0 382.5,49.8 384.0,50.0 386.0,51.0 388.0,56.0 390.0,75.0 391.2,92.5 392.5,110.0 394.0,121.6 395.5,133.2 397.2,143.6 399.0,154.0 400.8,159.8 402.5,165.7 403.9,167.3 405.2,169.1 406.6,171.4 407.9,171.4 409.1,169.4 410.4,170.7 411.7,169.0 413.1,168.0 414.4,167.3 415.8,166.1 417.2,165.9 418.5,165.0 419.9,163.3 421.2,162.3 422.6,161.0 423.9,160.3 425.3,159.5 426.6,157.3 428.0,156.4 429.3,156.2 430.6,156.1 431.9,154.3 433.3,153.1 434.6,152.5 435.9,152.9 437.2,151.7 438.5,151.7 439.8,151.9 441.1,151.3 442.4,149.6 443.7,149.1 445.0,149.4 446.2,148.2 447.5,147.5 448.8,148.0 450.0,146.9 451.2,148.0 452.5,148.4 453.8,147.3 455.0,148.2 456.4,147.7 457.9,145.2 459.3,144.3 460.8,144.3 462.2,145.1 463.7,143.8 465.1,144.8 466.6,144.3 468.1,146.4 469.5,145.6 471.0,146.5 472.4,145.4 473.8,145.0 475.2,144.0 476.7,144.6 478.1,143.3 479.6,144.2 481.1,144.8 482.5,145.4 483.9,146.2 485.3,146.9 486.6,145.8 487.8,146.2 489.1,146.6 490.3,145.2 491.6,145.6 492.9,146.5 494.1,146.2 495.4,147.7 496.7,146.2 498.1,146.1 499.4,143.8 500.8,144.6 502.1,142.7 503.4,144.2 504.6,143.1 505.9,145.5 507.1,145.2 508.4,145.2 509.8,146.3 511.1,146.5 512.5,145.8 513.8,146.5 515.5,148.7 517.2,150.2 518.5,150.2 519.7,150.2 521.0,148.7 522.2,148.9 523.5,149.9 524.9,150.8 526.2,150.5 527.6,150.7 528.9,151.0 530.2,150.3 531.6,151.3 532.9,151.2 534.3,152.2 535.6,151.9 537.3,153.8 539.0,154.9 540.3,155.2 541.7,154.5 543.0,155.6 544.4,155.7 545.7,155.6 547.0,156.1 548.2,158.8 549.5,159.5 550.8,160.3 552.0,159.1 553.3,160.6 554.5,158.5 555.8,158.9 557.4,158.4 559.1,159.2 560.7,158.6 562.1,159.4 563.5,159.9 564.9,160.6 566.3,160.9 567.6,160.0 568.8,159.0 570.1,158.6 571.7,156.6 573.2,155.1 574.8,154.8 576.6,158.3 578.5,160.9 579.8,160.8 581.0,159.7 582.3,159.0 583.7,159.9 585.1,159.4 586.6,159.6 588.0,160.5 589.6,162.2 591.1,165.3 592.7,166.5 594.0,163.4 595.3,162.4 596.7,159.8 598.0,158.9 599.3,156.2 600.7,158.0 602.1,160.0 603.5,162.3 604.9,164.6 606.5,163.5 608.0,162.7 609.6,160.9 611.0,159.2 612.5,158.8 613.9,155.8 615.3,155.2 617.1,161.3 619.0,167.5 620.4,163.4 621.9,159.5 623.3,156.0 624.7,153.3 626.1,157.7 627.5,160.9 629.1,155.9 630.6,150.8 632.2,145.8 633.6,152.4 635.0,159.0 636.4,165.6 637.8,162.9 639.2,158.5 640.0,159.6 641.3,151.4 642.2,154.4 643.3,148.2 644.2,150.5 645.3,147.9 646.4,149.0 647.3,145.4 648.4,148.5 649.6,144.7 650.5,149.6 651.6,145.0 652.8,151.6 653.8,146.9 654.8,152.4 656.0,150.5 656.9,153.0 658.1,143.0 659.2,139.2 660.5,132.6 661.8,131.2 663.0,128.8 664.3,127.9 666.0,123.1 667.7,119.4 669.0,136.4 670.3,153.3" fill="none" stroke="#cc9620" stroke-width="2.2" stroke-linejoin="round"/><path d="M312.2,10 H670.6 V290.4 H312.2 Z" fill="none" stroke="#111" stroke-width="1.6"/><path d="M312.2,290.4 v5 M342.1,290.4 v2.6 M371.9,290.4 v5 M401.8,290.4 v2.6 M431.7,290.4 v5 M461.5,290.4 v2.6 M491.4,290.4 v5 M521.3,290.4 v2.6 M551.1,290.4 v5 M581.0,290.4 v2.6 M610.9,290.4 v5 M640.7,290.4 v2.6 M670.6,290.4 v5 M312.2,10.0 h-5 M312.2,30.0 h-2.6 M312.2,50.0 h-5 M312.2,70.0 h-2.6 M312.2,90.0 h-5 M312.2,110.0 h-2.6 M312.2,130.0 h-5 M312.2,150.0 h-2.6 M312.2,170.0 h-5 M312.2,190.0 h-2.6 M312.2,210.0 h-5 M312.2,230.0 h-2.6 M312.2,250.0 h-5 M312.2,270.0 h-2.6 M312.2,290.0 h-5" stroke="#111" stroke-width="1.6" fill="none"/><g font-family="Liberation Sans" font-size="13" fill="#111" stroke="#111" stroke-width="0.3"><text x="312.2" y="309.6" text-anchor="middle">200</text><text x="371.9" y="309.6" text-anchor="middle">300</text><text x="431.7" y="309.6" text-anchor="middle">400</text><text x="491.4" y="309.6" text-anchor="middle">500</text><text x="551.1" y="309.6" text-anchor="middle">600</text><text x="610.9" y="309.6" text-anchor="middle">700</text><text x="670.6" y="309.6" text-anchor="middle">800</text><text x="303.3" y="14.4" text-anchor="end">20</text><text x="303.3" y="54.4" text-anchor="end">0</text><text x="303.3" y="94.4" text-anchor="end">−20</text><text x="303.3" y="134.4" text-anchor="end">−40</text><text x="303.3" y="174.4" text-anchor="end">−60</text><text x="303.3" y="214.4" text-anchor="end">−80</text><text x="303.3" y="254.4" text-anchor="end">−100</text><text x="303.3" y="294.4" text-anchor="end">−120</text></g><text x="492.5" y="336.3" text-anchor="middle" font-family="Liberation Sans" font-size="17.5" fill="#111" stroke="#111" stroke-width="0.3">Wavelength/nm</text><text transform="translate(254.6,164.1) rotate(-90)" text-anchor="middle" font-family="Liberation Sans" font-size="17.5" fill="#111" stroke="#111" stroke-width="0.3">CD/mdeg</text><path d="M501.6,222.9 H536.3" stroke="#1c56c4" stroke-width="2.2"/><text x="543.6" y="226.4" font-family="Liberation Sans" font-size="14" fill="#111" stroke="#111" stroke-width="0.3" textLength="95.5" lengthAdjust="spacingAndGlyphs">10 mmol/L Phe</text><path d="M501.6,245.8 H536.3" stroke="#2a9462" stroke-width="2.2"/><text x="543.6" y="249.7" font-family="Liberation Sans" font-size="14" fill="#111" stroke="#111" stroke-width="0.3" textLength="95.5" lengthAdjust="spacingAndGlyphs">20 mmol/L Phe</text><path d="M501.6,268.6 H536.3" stroke="#cc9620" stroke-width="2.2"/><text x="543.6" y="273.0" font-family="Liberation Sans" font-size="14" fill="#111" stroke="#111" stroke-width="0.3" textLength="95.5" lengthAdjust="spacingAndGlyphs">40 mmol/L Phe</text>
</svg>
</body></html>
